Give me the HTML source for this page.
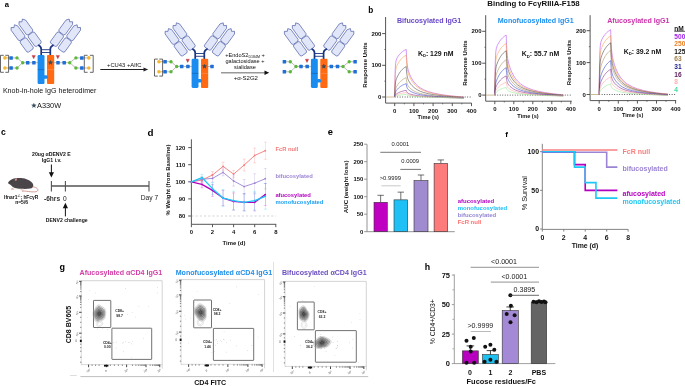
<!DOCTYPE html>
<html><head><meta charset="utf-8"><style>
html,body{margin:0;padding:0;background:#fff;width:685px;height:386px;overflow:hidden}
svg{display:block;will-change:transform}
text{font-family:"Liberation Sans", sans-serif}
</style></head><body>
<svg width="685" height="386" viewBox="0 0 685 386">
<rect width="685" height="386" fill="#fff"/>
<text x="4.70" y="6.80" font-size="7.6" font-weight="bold" fill="#000" text-anchor="start" >a</text><g stroke="#777" stroke-width="0.5" fill="none"><path d="M38.80,62.70 L22.70,62.70" stroke="#777" stroke-width="0.5" fill="none" /><path d="M22.70,62.70 L17.00,57.90 L4.90,57.90" stroke="#777" stroke-width="0.5" fill="none" /><path d="M22.70,62.70 L17.00,68.00 L4.90,68.00" stroke="#777" stroke-width="0.5" fill="none" /></g><rect x="32.15" y="60.95" width="3.50" height="3.50" fill="#1f6fd8" stroke="none" stroke-width="0" rx="0.5" /><rect x="25.95" y="60.95" width="3.50" height="3.50" fill="#1f6fd8" stroke="none" stroke-width="0" rx="0.5" /><circle cx="22.70" cy="62.70" r="1.70" fill="#5cb83a" stroke="none" stroke-width="0"/><circle cx="17.00" cy="57.90" r="1.70" fill="#5cb83a" stroke="none" stroke-width="0"/><rect x="9.35" y="56.15" width="3.50" height="3.50" fill="#1f6fd8" stroke="none" stroke-width="0" rx="0.5" /><circle cx="4.90" cy="57.90" r="1.80" fill="#f5b82e" stroke="none" stroke-width="0"/><circle cx="17.00" cy="68.00" r="1.70" fill="#5cb83a" stroke="none" stroke-width="0"/><rect x="9.35" y="66.25" width="3.50" height="3.50" fill="#1f6fd8" stroke="none" stroke-width="0" rx="0.5" /><circle cx="4.90" cy="68.00" r="1.80" fill="#f5b82e" stroke="none" stroke-width="0"/><path d="M3.80,55.30 L0.50,55.30 L0.50,72.30 L3.80,72.30" stroke="#333" stroke-width="0.75" fill="none" /><path d="M5.30,55.30 L8.60,55.30 L8.60,72.30 L5.30,72.30" stroke="#333" stroke-width="0.75" fill="none" /><g stroke="#777" stroke-width="0.5" fill="none"><path d="M52.80,62.70 L69.70,62.70" stroke="#777" stroke-width="0.5" fill="none" /><path d="M69.70,62.70 L75.90,57.90 L88.80,57.90" stroke="#777" stroke-width="0.5" fill="none" /><path d="M69.70,62.70 L75.90,68.00 L88.80,68.00" stroke="#777" stroke-width="0.5" fill="none" /></g><rect x="56.25" y="60.95" width="3.50" height="3.50" fill="#1f6fd8" stroke="none" stroke-width="0" rx="0.5" /><rect x="62.45" y="60.95" width="3.50" height="3.50" fill="#1f6fd8" stroke="none" stroke-width="0" rx="0.5" /><circle cx="69.70" cy="62.70" r="1.70" fill="#5cb83a" stroke="none" stroke-width="0"/><circle cx="75.90" cy="57.90" r="1.70" fill="#5cb83a" stroke="none" stroke-width="0"/><rect x="80.05" y="56.15" width="3.50" height="3.50" fill="#1f6fd8" stroke="none" stroke-width="0" rx="0.5" /><circle cx="88.80" cy="57.90" r="1.80" fill="#f5b82e" stroke="none" stroke-width="0"/><circle cx="75.90" cy="68.00" r="1.70" fill="#5cb83a" stroke="none" stroke-width="0"/><rect x="80.05" y="66.25" width="3.50" height="3.50" fill="#1f6fd8" stroke="none" stroke-width="0" rx="0.5" /><circle cx="88.80" cy="68.00" r="1.80" fill="#f5b82e" stroke="none" stroke-width="0"/><path d="M87.60,55.30 L84.30,55.30 L84.30,72.30 L87.60,72.30" stroke="#333" stroke-width="0.75" fill="none" /><path d="M89.90,55.30 L93.20,55.30 L93.20,72.30 L89.90,72.30" stroke="#333" stroke-width="0.75" fill="none" /><path d="M11.10,30.20 L11.10,27.48 L14.02,27.58 L14.46,24.79 L17.73,25.88 L24.84,35.67 L24.57,37.35 L20.12,40.58 L18.45,40.31 Z" stroke="#4b5ca6" stroke-width="0.7" fill="#e1e7f9" stroke-linejoin="round"/><path d="M20.21,42.74 L20.48,41.06 L24.93,37.83 L26.60,38.10 L33.24,47.24 L32.98,48.91 L28.53,52.15 L26.85,51.88 Z" stroke="#4b5ca6" stroke-width="0.7" fill="#e1e7f9" stroke-linejoin="round"/><path d="M19.03,24.44 L19.03,21.72 L21.95,21.82 L22.39,19.03 L25.65,20.12 L32.77,29.91 L32.50,31.59 L28.05,34.82 L26.38,34.55 Z" stroke="#4b5ca6" stroke-width="0.7" fill="#e1e7f9" stroke-linejoin="round"/><path d="M28.14,36.98 L28.40,35.30 L32.85,32.07 L34.53,32.34 L41.17,41.48 L40.91,43.15 L36.46,46.39 L34.78,46.12 Z" stroke="#4b5ca6" stroke-width="0.7" fill="#e1e7f9" stroke-linejoin="round"/><path d="M80.50,30.20 L80.50,27.48 L77.58,27.58 L77.14,24.79 L73.87,25.88 L66.76,35.67 L67.03,37.35 L71.48,40.58 L73.15,40.31 Z" stroke="#4b5ca6" stroke-width="0.7" fill="#e1e7f9" stroke-linejoin="round"/><path d="M71.39,42.74 L71.12,41.06 L66.67,37.83 L65.00,38.10 L58.36,47.24 L58.62,48.91 L63.07,52.15 L64.75,51.88 Z" stroke="#4b5ca6" stroke-width="0.7" fill="#e1e7f9" stroke-linejoin="round"/><path d="M72.57,24.44 L72.57,21.72 L69.65,21.82 L69.21,19.03 L65.95,20.12 L58.83,29.91 L59.10,31.59 L63.55,34.82 L65.22,34.55 Z" stroke="#4b5ca6" stroke-width="0.7" fill="#e1e7f9" stroke-linejoin="round"/><path d="M63.46,36.98 L63.20,35.30 L58.75,32.07 L57.07,32.34 L50.43,41.48 L50.69,43.15 L55.14,46.39 L56.82,46.12 Z" stroke="#4b5ca6" stroke-width="0.7" fill="#e1e7f9" stroke-linejoin="round"/><path d="M38.30,45.00 Q41.20,46.50 41.20,49.00 L41.20,56.00" stroke="#1a3480" stroke-width="1.7" fill="none" /><path d="M53.60,45.00 Q50.30,46.50 50.30,49.00 L50.30,56.00" stroke="#1a3480" stroke-width="1.7" fill="none" /><line x1="41.20" y1="49.70" x2="50.30" y2="49.70" stroke="#1a3480" stroke-width="0.9" /><line x1="41.20" y1="52.50" x2="50.30" y2="52.50" stroke="#1a3480" stroke-width="0.9" /><rect x="37.60" y="55.00" width="6.90" height="29.10" fill="#1a8cf0" stroke="none" stroke-width="0" rx="1.3" /><rect x="47.00" y="55.00" width="7.20" height="29.10" fill="#ff6a12" stroke="none" stroke-width="0" rx="1.0" /><line x1="37.80" y1="69.60" x2="44.30" y2="69.60" stroke="#0d5fb0" stroke-width="0.6" /><line x1="47.20" y1="69.60" x2="54.00" y2="69.60" stroke="#ff9a60" stroke-width="0.5" /><rect x="43.00" y="75.20" width="4.90" height="3.60" fill="#1a8cf0" stroke="none" stroke-width="0" rx="1.6" /><path d="M50.50,60.30 L51.09,61.79 L52.69,61.89 L51.45,62.91 L51.85,64.46 L50.50,63.60 L49.15,64.46 L49.55,62.91 L48.31,61.89 L49.91,61.79 Z" stroke="#23303a" stroke-width="0.3" fill="#3b5162" /><path d="M32.00,55.40 L35.40,55.40 L33.70,58.80 Z" stroke="#a02030" stroke-width="0.3" fill="#e0303a" /><path d="M56.10,55.40 L59.50,55.40 L57.80,58.80 Z" stroke="#a02030" stroke-width="0.3" fill="#e0303a" /><g stroke="#777" stroke-width="0.5" fill="none"><path d="M192.80,66.50 L176.70,66.50" stroke="#777" stroke-width="0.5" fill="none" /><path d="M176.70,66.50 L171.00,61.70 L158.90,61.70" stroke="#777" stroke-width="0.5" fill="none" /><path d="M176.70,66.50 L171.00,71.80 L158.90,71.80" stroke="#777" stroke-width="0.5" fill="none" /></g><rect x="186.15" y="64.75" width="3.50" height="3.50" fill="#1f6fd8" stroke="none" stroke-width="0" rx="0.5" /><rect x="179.95" y="64.75" width="3.50" height="3.50" fill="#1f6fd8" stroke="none" stroke-width="0" rx="0.5" /><circle cx="176.70" cy="66.50" r="1.70" fill="#5cb83a" stroke="none" stroke-width="0"/><circle cx="171.00" cy="61.70" r="1.70" fill="#5cb83a" stroke="none" stroke-width="0"/><rect x="163.35" y="59.95" width="3.50" height="3.50" fill="#1f6fd8" stroke="none" stroke-width="0" rx="0.5" /><circle cx="158.90" cy="61.70" r="1.80" fill="#f5b82e" stroke="none" stroke-width="0"/><circle cx="171.00" cy="71.80" r="1.70" fill="#5cb83a" stroke="none" stroke-width="0"/><rect x="163.35" y="70.05" width="3.50" height="3.50" fill="#1f6fd8" stroke="none" stroke-width="0" rx="0.5" /><circle cx="158.90" cy="71.80" r="1.80" fill="#f5b82e" stroke="none" stroke-width="0"/><path d="M157.80,59.10 L154.50,59.10 L154.50,76.10 L157.80,76.10" stroke="#333" stroke-width="0.75" fill="none" /><path d="M159.30,59.10 L162.60,59.10 L162.60,76.10 L159.30,76.10" stroke="#333" stroke-width="0.75" fill="none" /><g stroke="#777" stroke-width="0.5" fill="none"><path d="M206.80,66.50 L212.00,66.50" stroke="#777" stroke-width="0.5" fill="none" /></g><rect x="210.25" y="64.75" width="3.50" height="3.50" fill="#1f6fd8" stroke="none" stroke-width="0" rx="0.5" /><path d="M165.10,34.00 L165.10,31.28 L168.02,31.38 L168.46,28.59 L171.73,29.68 L178.84,39.47 L178.57,41.15 L174.12,44.38 L172.45,44.11 Z" stroke="#4b5ca6" stroke-width="0.7" fill="#e1e7f9" stroke-linejoin="round"/><path d="M174.21,46.54 L174.48,44.86 L178.93,41.63 L180.60,41.90 L187.24,51.04 L186.98,52.71 L182.53,55.95 L180.85,55.68 Z" stroke="#4b5ca6" stroke-width="0.7" fill="#e1e7f9" stroke-linejoin="round"/><path d="M173.03,28.24 L173.03,25.52 L175.95,25.62 L176.39,22.83 L179.65,23.92 L186.77,33.71 L186.50,35.39 L182.05,38.62 L180.38,38.35 Z" stroke="#4b5ca6" stroke-width="0.7" fill="#e1e7f9" stroke-linejoin="round"/><path d="M182.14,40.78 L182.40,39.10 L186.85,35.87 L188.53,36.14 L195.17,45.28 L194.91,46.95 L190.46,50.19 L188.78,49.92 Z" stroke="#4b5ca6" stroke-width="0.7" fill="#e1e7f9" stroke-linejoin="round"/><path d="M234.50,34.00 L234.50,31.28 L231.58,31.38 L231.14,28.59 L227.87,29.68 L220.76,39.47 L221.03,41.15 L225.48,44.38 L227.15,44.11 Z" stroke="#4b5ca6" stroke-width="0.7" fill="#e1e7f9" stroke-linejoin="round"/><path d="M225.39,46.54 L225.12,44.86 L220.67,41.63 L219.00,41.90 L212.36,51.04 L212.62,52.71 L217.07,55.95 L218.75,55.68 Z" stroke="#4b5ca6" stroke-width="0.7" fill="#e1e7f9" stroke-linejoin="round"/><path d="M226.57,28.24 L226.57,25.52 L223.65,25.62 L223.21,22.83 L219.95,23.92 L212.83,33.71 L213.10,35.39 L217.55,38.62 L219.22,38.35 Z" stroke="#4b5ca6" stroke-width="0.7" fill="#e1e7f9" stroke-linejoin="round"/><path d="M217.46,40.78 L217.20,39.10 L212.75,35.87 L211.07,36.14 L204.43,45.28 L204.69,46.95 L209.14,50.19 L210.82,49.92 Z" stroke="#4b5ca6" stroke-width="0.7" fill="#e1e7f9" stroke-linejoin="round"/><path d="M192.30,48.80 Q195.20,50.30 195.20,52.80 L195.20,59.80" stroke="#1a3480" stroke-width="1.7" fill="none" /><path d="M207.60,48.80 Q204.30,50.30 204.30,52.80 L204.30,59.80" stroke="#1a3480" stroke-width="1.7" fill="none" /><line x1="195.20" y1="53.50" x2="204.30" y2="53.50" stroke="#1a3480" stroke-width="0.9" /><line x1="195.20" y1="56.30" x2="204.30" y2="56.30" stroke="#1a3480" stroke-width="0.9" /><rect x="191.60" y="58.80" width="6.90" height="29.10" fill="#1a8cf0" stroke="none" stroke-width="0" rx="1.3" /><rect x="201.00" y="58.80" width="7.20" height="29.10" fill="#ff6a12" stroke="none" stroke-width="0" rx="1.0" /><line x1="191.80" y1="73.40" x2="198.30" y2="73.40" stroke="#0d5fb0" stroke-width="0.6" /><line x1="201.20" y1="73.40" x2="208.00" y2="73.40" stroke="#ff9a60" stroke-width="0.5" /><rect x="197.00" y="79.00" width="4.90" height="3.60" fill="#1a8cf0" stroke="none" stroke-width="0" rx="1.6" /><path d="M204.50,64.10 L205.09,65.59 L206.69,65.69 L205.45,66.71 L205.85,68.26 L204.50,67.40 L203.15,68.26 L203.55,66.71 L202.31,65.69 L203.91,65.59 Z" stroke="#23303a" stroke-width="0.3" fill="#3b5162" /><path d="M186.00,59.20 L189.40,59.20 L187.70,62.60 Z" stroke="#a02030" stroke-width="0.3" fill="#e0303a" /><g stroke="#777" stroke-width="0.5" fill="none"><path d="M312.10,66.50 L296.00,66.50" stroke="#777" stroke-width="0.5" fill="none" /><path d="M296.00,66.50 L290.30,61.70 L284.40,61.70" stroke="#777" stroke-width="0.5" fill="none" /><path d="M296.00,66.50 L290.30,71.80 L284.40,71.80" stroke="#777" stroke-width="0.5" fill="none" /></g><rect x="305.45" y="64.75" width="3.50" height="3.50" fill="#1f6fd8" stroke="none" stroke-width="0" rx="0.5" /><rect x="299.25" y="64.75" width="3.50" height="3.50" fill="#1f6fd8" stroke="none" stroke-width="0" rx="0.5" /><circle cx="296.00" cy="66.50" r="1.70" fill="#5cb83a" stroke="none" stroke-width="0"/><circle cx="290.30" cy="61.70" r="1.70" fill="#5cb83a" stroke="none" stroke-width="0"/><rect x="282.65" y="59.95" width="3.50" height="3.50" fill="#1f6fd8" stroke="none" stroke-width="0" rx="0.5" /><circle cx="290.30" cy="71.80" r="1.70" fill="#5cb83a" stroke="none" stroke-width="0"/><rect x="282.65" y="70.05" width="3.50" height="3.50" fill="#1f6fd8" stroke="none" stroke-width="0" rx="0.5" /><g stroke="#777" stroke-width="0.5" fill="none"><path d="M326.10,66.50 L343.00,66.50" stroke="#777" stroke-width="0.5" fill="none" /><path d="M343.00,66.50 L349.20,61.70 L355.10,61.70" stroke="#777" stroke-width="0.5" fill="none" /><path d="M343.00,66.50 L349.20,71.80 L355.10,71.80" stroke="#777" stroke-width="0.5" fill="none" /></g><rect x="329.55" y="64.75" width="3.50" height="3.50" fill="#1f6fd8" stroke="none" stroke-width="0" rx="0.5" /><rect x="335.75" y="64.75" width="3.50" height="3.50" fill="#1f6fd8" stroke="none" stroke-width="0" rx="0.5" /><circle cx="343.00" cy="66.50" r="1.70" fill="#5cb83a" stroke="none" stroke-width="0"/><circle cx="349.20" cy="61.70" r="1.70" fill="#5cb83a" stroke="none" stroke-width="0"/><rect x="353.35" y="59.95" width="3.50" height="3.50" fill="#1f6fd8" stroke="none" stroke-width="0" rx="0.5" /><circle cx="349.20" cy="71.80" r="1.70" fill="#5cb83a" stroke="none" stroke-width="0"/><rect x="353.35" y="70.05" width="3.50" height="3.50" fill="#1f6fd8" stroke="none" stroke-width="0" rx="0.5" /><path d="M284.40,34.00 L284.40,31.28 L287.32,31.38 L287.76,28.59 L291.03,29.68 L298.14,39.47 L297.87,41.15 L293.42,44.38 L291.75,44.11 Z" stroke="#4b5ca6" stroke-width="0.7" fill="#e1e7f9" stroke-linejoin="round"/><path d="M293.51,46.54 L293.78,44.86 L298.23,41.63 L299.90,41.90 L306.54,51.04 L306.28,52.71 L301.83,55.95 L300.15,55.68 Z" stroke="#4b5ca6" stroke-width="0.7" fill="#e1e7f9" stroke-linejoin="round"/><path d="M292.33,28.24 L292.33,25.52 L295.25,25.62 L295.69,22.83 L298.95,23.92 L306.07,33.71 L305.80,35.39 L301.35,38.62 L299.68,38.35 Z" stroke="#4b5ca6" stroke-width="0.7" fill="#e1e7f9" stroke-linejoin="round"/><path d="M301.44,40.78 L301.70,39.10 L306.15,35.87 L307.83,36.14 L314.47,45.28 L314.21,46.95 L309.76,50.19 L308.08,49.92 Z" stroke="#4b5ca6" stroke-width="0.7" fill="#e1e7f9" stroke-linejoin="round"/><path d="M353.80,34.00 L353.80,31.28 L350.88,31.38 L350.44,28.59 L347.17,29.68 L340.06,39.47 L340.33,41.15 L344.78,44.38 L346.45,44.11 Z" stroke="#4b5ca6" stroke-width="0.7" fill="#e1e7f9" stroke-linejoin="round"/><path d="M344.69,46.54 L344.42,44.86 L339.97,41.63 L338.30,41.90 L331.66,51.04 L331.92,52.71 L336.37,55.95 L338.05,55.68 Z" stroke="#4b5ca6" stroke-width="0.7" fill="#e1e7f9" stroke-linejoin="round"/><path d="M345.87,28.24 L345.87,25.52 L342.95,25.62 L342.51,22.83 L339.25,23.92 L332.13,33.71 L332.40,35.39 L336.85,38.62 L338.52,38.35 Z" stroke="#4b5ca6" stroke-width="0.7" fill="#e1e7f9" stroke-linejoin="round"/><path d="M336.76,40.78 L336.50,39.10 L332.05,35.87 L330.37,36.14 L323.73,45.28 L323.99,46.95 L328.44,50.19 L330.12,49.92 Z" stroke="#4b5ca6" stroke-width="0.7" fill="#e1e7f9" stroke-linejoin="round"/><path d="M311.60,48.80 Q314.50,50.30 314.50,52.80 L314.50,59.80" stroke="#1a3480" stroke-width="1.7" fill="none" /><path d="M326.90,48.80 Q323.60,50.30 323.60,52.80 L323.60,59.80" stroke="#1a3480" stroke-width="1.7" fill="none" /><line x1="314.50" y1="53.50" x2="323.60" y2="53.50" stroke="#1a3480" stroke-width="0.9" /><line x1="314.50" y1="56.30" x2="323.60" y2="56.30" stroke="#1a3480" stroke-width="0.9" /><rect x="310.90" y="58.80" width="6.90" height="29.10" fill="#1a8cf0" stroke="none" stroke-width="0" rx="1.3" /><rect x="320.30" y="58.80" width="7.20" height="29.10" fill="#ff6a12" stroke="none" stroke-width="0" rx="1.0" /><line x1="311.10" y1="73.40" x2="317.60" y2="73.40" stroke="#0d5fb0" stroke-width="0.6" /><line x1="320.50" y1="73.40" x2="327.30" y2="73.40" stroke="#ff9a60" stroke-width="0.5" /><rect x="316.30" y="79.00" width="4.90" height="3.60" fill="#1a8cf0" stroke="none" stroke-width="0" rx="1.6" /><path d="M323.80,64.10 L324.39,65.59 L325.99,65.69 L324.75,66.71 L325.15,68.26 L323.80,67.40 L322.45,68.26 L322.85,66.71 L321.61,65.69 L323.21,65.59 Z" stroke="#23303a" stroke-width="0.3" fill="#3b5162" /><path d="M305.30,59.20 L308.70,59.20 L307.00,62.60 Z" stroke="#a02030" stroke-width="0.3" fill="#e0303a" /><text x="2.90" y="92.96" font-size="7.1" font-weight="normal" fill="#111" text-anchor="start" >Knob-in-hole IgG heterodimer</text><path d="M33.90,102.70 L34.63,104.59 L36.66,104.70 L35.09,105.99 L35.60,107.95 L33.90,106.85 L32.20,107.95 L32.71,105.99 L31.14,104.70 L33.17,104.59 Z" stroke="none" stroke-width="1" fill="#3b5162" /><text x="37.00" y="108.05" font-size="7.35" font-weight="normal" fill="#111" text-anchor="start" >A330W</text><line x1="100.30" y1="69.50" x2="145.00" y2="69.50" stroke="#222" stroke-width="1.1" /><path d="M143.5,67.4 L148.2,69.5 L143.5,71.6 Z" stroke="none" stroke-width="1" fill="#222" /><text x="124.20" y="66.71" font-size="5.85" font-weight="normal" fill="#111" text-anchor="middle" >+CU43 +AlfC</text><line x1="221.00" y1="72.70" x2="265.00" y2="72.70" stroke="#999" stroke-width="1.5" /><path d="M264.5,70.4 L269.2,72.7 L264.5,75.0 Z" stroke="none" stroke-width="1" fill="#111" /><text x="245.00" y="57.42" font-size="5.6" font-weight="normal" fill="#111" text-anchor="middle" >+EndoS2<tspan font-size="3.6" dy="0.8">D184M</tspan><tspan dy="-0.8"> +</tspan></text><text x="245.00" y="63.32" font-size="5.6" font-weight="normal" fill="#111" text-anchor="middle" >galactosidase +</text><text x="245.00" y="69.02" font-size="5.6" font-weight="normal" fill="#111" text-anchor="middle" >sialidase</text><text x="245.80" y="80.46" font-size="6.0" font-weight="normal" fill="#111" text-anchor="middle" >+α-S2G2</text><text x="368.30" y="13.30" font-size="8.2" font-weight="bold" fill="#000" text-anchor="start" >b</text><text x="533.50" y="6.01" font-size="7.8" font-weight="bold" fill="#111" text-anchor="middle" >Binding to FcγRIIIA-F158</text><line x1="385.60" y1="17.00" x2="385.60" y2="103.10" stroke="#555" stroke-width="1.0" /><line x1="385.60" y1="103.10" x2="471.60" y2="103.10" stroke="#555" stroke-width="1.0" /><line x1="382.10" y1="97.00" x2="385.60" y2="97.00" stroke="#444" stroke-width="0.9" /><text x="381.40" y="99.16" font-size="6.0" font-weight="bold" fill="#111" text-anchor="end" >0</text><line x1="382.10" y1="65.30" x2="385.60" y2="65.30" stroke="#444" stroke-width="0.9" /><text x="381.40" y="67.46" font-size="6.0" font-weight="bold" fill="#111" text-anchor="end" >100</text><line x1="382.10" y1="33.60" x2="385.60" y2="33.60" stroke="#444" stroke-width="0.9" /><text x="381.40" y="35.76" font-size="6.0" font-weight="bold" fill="#111" text-anchor="end" >200</text><line x1="384.30" y1="81.15" x2="385.60" y2="81.15" stroke="#333" stroke-width="0.6" /><line x1="384.30" y1="49.45" x2="385.60" y2="49.45" stroke="#333" stroke-width="0.6" /><line x1="394.70" y1="103.10" x2="394.70" y2="106.10" stroke="#444" stroke-width="0.9" /><text x="394.70" y="113.26" font-size="6.0" font-weight="bold" fill="#111" text-anchor="middle" >0</text><line x1="413.90" y1="103.10" x2="413.90" y2="106.10" stroke="#444" stroke-width="0.9" /><text x="413.90" y="113.26" font-size="6.0" font-weight="bold" fill="#111" text-anchor="middle" >100</text><line x1="433.10" y1="103.10" x2="433.10" y2="106.10" stroke="#444" stroke-width="0.9" /><text x="433.10" y="113.26" font-size="6.0" font-weight="bold" fill="#111" text-anchor="middle" >200</text><line x1="452.30" y1="103.10" x2="452.30" y2="106.10" stroke="#444" stroke-width="0.9" /><text x="452.30" y="113.26" font-size="6.0" font-weight="bold" fill="#111" text-anchor="middle" >300</text><line x1="471.50" y1="103.10" x2="471.50" y2="106.10" stroke="#444" stroke-width="0.9" /><text x="471.50" y="113.26" font-size="6.0" font-weight="bold" fill="#111" text-anchor="middle" >400</text><line x1="404.30" y1="103.10" x2="404.30" y2="104.40" stroke="#333" stroke-width="0.6" /><line x1="423.50" y1="103.10" x2="423.50" y2="104.40" stroke="#333" stroke-width="0.6" /><line x1="442.70" y1="103.10" x2="442.70" y2="104.40" stroke="#333" stroke-width="0.6" /><line x1="461.90" y1="103.10" x2="461.90" y2="104.40" stroke="#333" stroke-width="0.6" /><text x="428.30" y="119.42" font-size="5.6" font-weight="bold" fill="#111" text-anchor="middle" >Time (s)</text><text transform="translate(366.66,65.00) rotate(-90)" x="0" y="0" font-size="6.0" font-weight="bold" fill="#111" text-anchor="middle">Response Units</text><line x1="394.70" y1="97.00" x2="471.50" y2="97.00" stroke="#222" stroke-width="0.8" stroke-dasharray="0.9 1.6"/><line x1="385.87" y1="97.00" x2="394.70" y2="97.00" stroke="#c9b48c" stroke-width="0.9" /><path d="M394.70,97.00 L394.80,89.20 L394.89,83.07 L394.99,78.25 L395.08,74.46 L395.28,69.07 L395.47,65.64 L395.66,63.41 L395.85,61.91 L396.24,60.07 L396.62,58.96 L397.20,57.78 L397.77,56.82 L398.54,55.70 L399.50,54.48 L400.46,53.42 L401.42,52.50 L402.38,51.70 L403.34,51.01 L404.30,50.42 L405.26,49.90 L406.22,49.45 L406.32,52.02 L406.41,54.24 L406.60,57.86 L406.80,60.64 L406.99,62.81 L407.37,65.95 L407.76,68.13 L408.14,69.78 L408.72,71.73 L409.29,73.35 L410.06,75.22 L411.02,77.25 L411.98,79.01 L413.90,81.93 L415.82,84.20 L417.74,86.01 L420.62,88.10 L423.50,89.67 L428.30,91.58 L433.10,92.94 L438.86,94.15 L444.62,95.08 L452.30,96.02 L458.06,96.57 L463.82,97.03" stroke="#b040f0" stroke-width="0.55" fill="none" /><path d="M394.70,97.00 L394.80,90.99 L394.89,86.25 L394.99,82.50 L395.08,79.52 L395.28,75.25 L395.47,72.47 L395.66,70.60 L395.85,69.29 L396.24,67.57 L396.62,66.41 L397.20,65.08 L397.77,63.95 L398.54,62.62 L399.50,61.16 L400.46,59.89 L401.42,58.80 L402.38,57.85 L403.34,57.02 L404.30,56.31 L405.26,55.69 L406.22,55.16 L406.32,57.41 L406.41,59.37 L406.60,62.56 L406.80,65.01 L406.99,66.92 L407.37,69.68 L407.76,71.60 L408.14,73.05 L408.72,74.77 L409.29,76.20 L410.06,77.84 L411.02,79.63 L411.98,81.19 L413.90,83.75 L415.82,85.76 L417.74,87.36 L420.62,89.21 L423.50,90.60 L428.30,92.28 L433.10,93.49 L438.86,94.58 L444.62,95.41 L452.30,96.26 L458.06,96.75 L463.82,97.17" stroke="#ff9838" stroke-width="0.55" fill="none" /><path d="M394.70,97.00 L394.80,93.68 L394.89,91.04 L394.99,88.92 L395.08,87.21 L395.28,84.68 L395.47,82.95 L395.66,81.71 L395.85,80.77 L396.24,79.39 L396.62,78.32 L397.20,76.99 L397.77,75.82 L398.54,74.42 L399.50,72.89 L400.46,71.55 L401.42,70.40 L402.38,69.40 L403.34,68.54 L404.30,67.78 L405.26,67.13 L406.22,66.57 L406.32,68.21 L406.41,69.63 L406.60,71.95 L406.80,73.73 L406.99,75.13 L407.37,77.14 L407.76,78.53 L408.14,79.59 L408.72,80.85 L409.29,81.89 L410.06,83.09 L411.02,84.39 L411.98,85.53 L413.90,87.41 L415.82,88.88 L417.74,90.06 L420.62,91.41 L423.50,92.44 L428.30,93.70 L433.10,94.60 L438.86,95.42 L444.62,96.06 L452.30,96.72 L458.06,97.12 L463.82,97.45" stroke="#404040" stroke-width="0.55" fill="none" /><path d="M394.70,97.00 L394.80,95.29 L394.89,93.91 L394.99,92.79 L395.08,91.87 L395.28,90.48 L395.47,89.49 L395.66,88.75 L395.85,88.15 L396.24,87.22 L396.62,86.47 L397.20,85.49 L397.77,84.61 L398.54,83.56 L399.50,82.41 L400.46,81.41 L401.42,80.54 L402.38,79.79 L403.34,79.14 L404.30,78.58 L405.26,78.09 L406.22,77.66 L406.32,78.71 L406.41,79.61 L406.60,81.09 L406.80,82.22 L406.99,83.11 L407.37,84.39 L407.76,85.28 L408.14,85.95 L408.72,86.76 L409.29,87.42 L410.06,88.19 L411.02,89.03 L411.98,89.76 L413.90,90.96 L415.82,91.91 L417.74,92.67 L420.62,93.56 L423.50,94.23 L428.30,95.07 L433.10,95.68 L438.86,96.25 L444.62,96.69 L452.30,97.17 L458.06,97.47 L463.82,97.72" stroke="#a88a58" stroke-width="0.55" fill="none" /><path d="M394.70,97.00 L394.80,95.96 L394.89,95.11 L394.99,94.42 L395.08,93.84 L395.28,92.96 L395.47,92.32 L395.66,91.82 L395.85,91.41 L396.24,90.76 L396.62,90.21 L397.20,89.49 L397.77,88.84 L398.54,88.06 L399.50,87.20 L400.46,86.46 L401.42,85.82 L402.38,85.26 L403.34,84.78 L404.30,84.36 L405.26,84.00 L406.22,83.69 L406.32,84.41 L406.41,85.03 L406.60,86.05 L406.80,86.83 L406.99,87.44 L407.37,88.32 L407.76,88.94 L408.14,89.41 L408.72,89.96 L409.29,90.42 L410.06,90.96 L411.02,91.54 L411.98,92.05 L413.90,92.89 L415.82,93.56 L417.74,94.10 L420.62,94.72 L423.50,95.21 L428.30,95.81 L433.10,96.27 L438.86,96.69 L444.62,97.04 L452.30,97.42 L458.06,97.66 L463.82,97.87" stroke="#2a3ac8" stroke-width="0.55" fill="none" /><path d="M394.70,97.00 L394.80,96.55 L394.89,96.17 L394.99,95.87 L395.08,95.61 L395.28,95.21 L395.47,94.90 L395.66,94.66 L395.85,94.46 L396.24,94.12 L396.62,93.83 L397.20,93.45 L397.77,93.10 L398.54,92.69 L399.50,92.23 L400.46,91.83 L401.42,91.49 L402.38,91.19 L403.34,90.93 L404.30,90.71 L405.26,90.51 L406.22,90.34 L406.32,90.70 L406.41,91.02 L406.60,91.53 L406.80,91.92 L406.99,92.23 L407.37,92.67 L407.76,92.99 L408.14,93.22 L408.72,93.51 L409.29,93.74 L410.06,94.02 L411.02,94.32 L411.98,94.58 L413.90,95.03 L415.82,95.38 L417.74,95.67 L420.62,96.01 L423.50,96.28 L428.30,96.64 L433.10,96.91 L438.86,97.19 L444.62,97.42 L452.30,97.69 L458.06,97.87 L463.82,98.04" stroke="#802080" stroke-width="0.55" fill="none" /><path d="M394.70,97.00 L394.80,96.74 L394.89,96.53 L394.99,96.35 L395.08,96.20 L395.28,95.95 L395.47,95.76 L395.66,95.61 L395.85,95.47 L396.24,95.24 L396.62,95.04 L397.20,94.77 L397.77,94.52 L398.54,94.23 L399.50,93.90 L400.46,93.62 L401.42,93.38 L402.38,93.16 L403.34,92.98 L404.30,92.82 L405.26,92.68 L406.22,92.56 L406.32,92.80 L406.41,93.01 L406.60,93.35 L406.80,93.62 L406.99,93.82 L407.37,94.12 L407.76,94.33 L408.14,94.50 L408.72,94.69 L409.29,94.85 L410.06,95.04 L411.02,95.25 L411.98,95.43 L413.90,95.74 L415.82,95.99 L417.74,96.19 L420.62,96.44 L423.50,96.64 L428.30,96.91 L433.10,97.13 L438.86,97.35 L444.62,97.55 L452.30,97.78 L458.06,97.94 L463.82,98.09" stroke="#ffa0a0" stroke-width="0.55" fill="none" /><path d="M394.70,97.00 L394.80,96.88 L394.89,96.78 L394.99,96.69 L395.08,96.61 L395.28,96.49 L395.47,96.39 L395.66,96.30 L395.85,96.22 L396.24,96.09 L396.62,95.97 L397.20,95.80 L397.77,95.66 L398.54,95.48 L399.50,95.28 L400.46,95.11 L401.42,94.96 L402.38,94.83 L403.34,94.72 L404.30,94.62 L405.26,94.54 L406.22,94.46 L406.32,94.60 L406.41,94.72 L406.60,94.92 L406.80,95.07 L406.99,95.19 L407.37,95.37 L407.76,95.49 L408.14,95.59 L408.72,95.70 L409.29,95.80 L410.06,95.91 L411.02,96.04 L411.98,96.15 L413.90,96.35 L415.82,96.51 L417.74,96.64 L420.62,96.81 L423.50,96.95 L428.30,97.15 L433.10,97.31 L438.86,97.49 L444.62,97.66 L452.30,97.86 L458.06,98.00 L463.82,98.14" stroke="#90e890" stroke-width="0.55" fill="none" /><text x="397.00" y="22.86" font-size="7.1" font-weight="bold" fill="#6a48c8" text-anchor="start" >Bifucosylated IgG1</text><text x="417.90" y="55.58" font-size="6.9" font-weight="bold" fill="#111" text-anchor="start" >K<tspan font-size="4.2" dy="1.5">D</tspan><tspan dy="-1.5">: 129 nM</tspan></text><line x1="485.70" y1="15.20" x2="485.70" y2="101.20" stroke="#555" stroke-width="1.0" /><line x1="485.70" y1="101.20" x2="571.70" y2="101.20" stroke="#555" stroke-width="1.0" /><line x1="482.20" y1="95.10" x2="485.70" y2="95.10" stroke="#444" stroke-width="0.9" /><text x="481.50" y="97.26" font-size="6.0" font-weight="bold" fill="#111" text-anchor="end" >0</text><line x1="482.20" y1="63.20" x2="485.70" y2="63.20" stroke="#444" stroke-width="0.9" /><text x="481.50" y="65.36" font-size="6.0" font-weight="bold" fill="#111" text-anchor="end" >100</text><line x1="482.20" y1="31.30" x2="485.70" y2="31.30" stroke="#444" stroke-width="0.9" /><text x="481.50" y="33.46" font-size="6.0" font-weight="bold" fill="#111" text-anchor="end" >200</text><line x1="484.40" y1="79.15" x2="485.70" y2="79.15" stroke="#333" stroke-width="0.6" /><line x1="484.40" y1="47.25" x2="485.70" y2="47.25" stroke="#333" stroke-width="0.6" /><line x1="494.80" y1="101.20" x2="494.80" y2="104.20" stroke="#444" stroke-width="0.9" /><text x="494.80" y="111.36" font-size="6.0" font-weight="bold" fill="#111" text-anchor="middle" >0</text><line x1="513.80" y1="101.20" x2="513.80" y2="104.20" stroke="#444" stroke-width="0.9" /><text x="513.80" y="111.36" font-size="6.0" font-weight="bold" fill="#111" text-anchor="middle" >100</text><line x1="532.80" y1="101.20" x2="532.80" y2="104.20" stroke="#444" stroke-width="0.9" /><text x="532.80" y="111.36" font-size="6.0" font-weight="bold" fill="#111" text-anchor="middle" >200</text><line x1="551.80" y1="101.20" x2="551.80" y2="104.20" stroke="#444" stroke-width="0.9" /><text x="551.80" y="111.36" font-size="6.0" font-weight="bold" fill="#111" text-anchor="middle" >300</text><line x1="570.80" y1="101.20" x2="570.80" y2="104.20" stroke="#444" stroke-width="0.9" /><text x="570.80" y="111.36" font-size="6.0" font-weight="bold" fill="#111" text-anchor="middle" >400</text><line x1="504.30" y1="101.20" x2="504.30" y2="102.50" stroke="#333" stroke-width="0.6" /><line x1="523.30" y1="101.20" x2="523.30" y2="102.50" stroke="#333" stroke-width="0.6" /><line x1="542.30" y1="101.20" x2="542.30" y2="102.50" stroke="#333" stroke-width="0.6" /><line x1="561.30" y1="101.20" x2="561.30" y2="102.50" stroke="#333" stroke-width="0.6" /><text x="528.00" y="117.52" font-size="5.6" font-weight="bold" fill="#111" text-anchor="middle" >Time (s)</text><text transform="translate(466.76,63.10) rotate(-90)" x="0" y="0" font-size="6.0" font-weight="bold" fill="#111" text-anchor="middle">Response Units</text><line x1="494.80" y1="95.10" x2="570.80" y2="95.10" stroke="#222" stroke-width="0.8" stroke-dasharray="0.9 1.6"/><line x1="486.06" y1="95.10" x2="494.80" y2="95.10" stroke="#c9b48c" stroke-width="0.9" /><path d="M494.80,95.10 L494.90,85.26 L494.99,77.53 L495.09,71.46 L495.18,66.67 L495.37,59.87 L495.56,55.55 L495.75,52.74 L495.94,50.84 L496.32,48.53 L496.70,47.12 L497.27,45.63 L497.84,44.42 L498.60,43.01 L499.55,41.47 L500.50,40.13 L501.45,38.97 L502.40,37.97 L503.35,37.10 L504.30,36.35 L505.25,35.69 L506.20,35.13 L506.30,38.36 L506.39,41.17 L506.58,45.73 L506.77,49.24 L506.96,51.98 L507.34,55.93 L507.72,58.68 L508.10,60.76 L508.67,63.22 L509.24,65.26 L510.00,67.61 L510.95,70.16 L511.90,72.38 L513.80,76.05 L515.70,78.91 L517.60,81.18 L520.45,83.80 L523.30,85.77 L528.05,88.14 L532.80,89.83 L538.50,91.33 L544.20,92.47 L551.80,93.62 L557.50,94.28 L563.20,94.82" stroke="#b040f0" stroke-width="0.55" fill="none" /><path d="M494.80,95.10 L494.90,87.36 L494.99,81.26 L495.09,76.45 L495.18,72.64 L495.37,67.19 L495.56,63.67 L495.75,61.33 L495.94,59.71 L496.32,57.62 L496.70,56.25 L497.27,54.72 L497.84,53.43 L498.60,51.91 L499.55,50.25 L500.50,48.81 L501.45,47.56 L502.40,46.48 L503.35,45.55 L504.30,44.74 L505.25,44.03 L506.20,43.42 L506.30,46.21 L506.39,48.63 L506.58,52.56 L506.77,55.58 L506.96,57.94 L507.34,61.35 L507.72,63.72 L508.10,65.51 L508.67,67.63 L509.24,69.39 L510.00,71.42 L510.95,73.62 L511.90,75.54 L513.80,78.70 L515.70,81.18 L517.60,83.14 L520.45,85.40 L523.30,87.11 L528.05,89.17 L532.80,90.64 L538.50,91.95 L544.20,92.95 L551.80,93.95 L557.50,94.54 L563.20,95.03" stroke="#ff9838" stroke-width="0.55" fill="none" /><path d="M494.80,95.10 L494.90,89.36 L494.99,84.82 L495.09,81.21 L495.18,78.33 L495.37,74.15 L495.56,71.38 L495.75,69.47 L495.94,68.09 L496.32,66.19 L496.70,64.83 L497.27,63.20 L497.84,61.79 L498.60,60.12 L499.55,58.29 L500.50,56.70 L501.45,55.33 L502.40,54.14 L503.35,53.10 L504.30,52.21 L505.25,51.43 L506.20,50.76 L506.30,53.15 L506.39,55.23 L506.58,58.60 L506.77,61.20 L506.96,63.22 L507.34,66.15 L507.72,68.18 L508.10,69.72 L508.67,71.54 L509.24,73.05 L510.00,74.80 L510.95,76.69 L511.90,78.33 L513.80,81.05 L515.70,83.18 L517.60,84.87 L520.45,86.82 L523.30,88.29 L528.05,90.07 L532.80,91.35 L538.50,92.49 L544.20,93.36 L551.80,94.25 L557.50,94.78 L563.20,95.21" stroke="#404040" stroke-width="0.55" fill="none" /><path d="M494.80,95.10 L494.90,91.24 L494.99,88.16 L495.09,85.70 L495.18,83.71 L495.37,80.77 L495.56,78.76 L495.75,77.31 L495.94,76.22 L496.32,74.60 L496.70,73.37 L497.27,71.82 L497.84,70.46 L498.60,68.83 L499.55,67.04 L500.50,65.49 L501.45,64.15 L502.40,62.99 L503.35,61.98 L504.30,61.11 L505.25,60.35 L506.20,59.69 L506.30,61.60 L506.39,63.26 L506.58,65.96 L506.77,68.03 L506.96,69.65 L507.34,71.99 L507.72,73.61 L508.10,74.84 L508.67,76.30 L509.24,77.51 L510.00,78.90 L510.95,80.42 L511.90,81.74 L513.80,83.92 L515.70,85.62 L517.60,86.98 L520.45,88.55 L523.30,89.74 L528.05,91.18 L532.80,92.22 L538.50,93.15 L544.20,93.88 L551.80,94.62 L557.50,95.06 L563.20,95.43" stroke="#a88a58" stroke-width="0.55" fill="none" /><path d="M494.80,95.10 L494.90,92.67 L494.99,90.71 L495.09,89.12 L495.18,87.82 L495.37,85.85 L495.56,84.45 L495.75,83.39 L495.94,82.55 L496.32,81.23 L496.70,80.16 L497.27,78.76 L497.84,77.52 L498.60,76.03 L499.55,74.40 L500.50,72.98 L501.45,71.75 L502.40,70.69 L503.35,69.76 L504.30,68.96 L505.25,68.27 L506.20,67.67 L506.30,69.15 L506.39,70.43 L506.58,72.52 L506.77,74.13 L506.96,75.38 L507.34,77.20 L507.72,78.46 L508.10,79.41 L508.67,80.54 L509.24,81.48 L510.00,82.57 L510.95,83.75 L511.90,84.77 L513.80,86.47 L515.70,87.80 L517.60,88.86 L520.45,90.09 L523.30,91.03 L528.05,92.17 L532.80,92.99 L538.50,93.75 L544.20,94.33 L551.80,94.94 L557.50,95.31 L563.20,95.62" stroke="#2a3ac8" stroke-width="0.55" fill="none" /><path d="M494.80,95.10 L494.90,93.60 L494.99,92.38 L495.09,91.38 L495.18,90.56 L495.37,89.30 L495.56,88.37 L495.75,87.65 L495.94,87.07 L496.32,86.12 L496.70,85.34 L497.27,84.30 L497.84,83.36 L498.60,82.25 L499.55,81.02 L500.50,79.95 L501.45,79.03 L502.40,78.23 L503.35,77.53 L504.30,76.93 L505.25,76.41 L506.20,75.96 L506.30,76.99 L506.39,77.89 L506.58,79.35 L506.77,80.47 L506.96,81.35 L507.34,82.62 L507.72,83.50 L508.10,84.17 L508.67,84.96 L509.24,85.62 L510.00,86.38 L510.95,87.21 L511.90,87.93 L513.80,89.13 L515.70,90.07 L517.60,90.82 L520.45,91.70 L523.30,92.37 L528.05,93.19 L532.80,93.80 L538.50,94.36 L544.20,94.81 L551.80,95.28 L557.50,95.57 L563.20,95.83" stroke="#802080" stroke-width="0.55" fill="none" /><path d="M494.80,95.10 L494.90,94.23 L494.99,93.52 L495.09,92.93 L495.18,92.44 L495.37,91.66 L495.56,91.08 L495.75,90.62 L495.94,90.23 L496.32,89.58 L496.70,89.03 L497.27,88.29 L497.84,87.63 L498.60,86.83 L499.55,85.95 L500.50,85.19 L501.45,84.53 L502.40,83.96 L503.35,83.46 L504.30,83.04 L505.25,82.66 L506.20,82.34 L506.30,83.03 L506.39,83.63 L506.58,84.60 L506.77,85.35 L506.96,85.94 L507.34,86.79 L507.72,87.38 L508.10,87.82 L508.67,88.36 L509.24,88.80 L510.00,89.31 L510.95,89.87 L511.90,90.36 L513.80,91.17 L515.70,91.81 L517.60,92.33 L520.45,92.93 L523.30,93.40 L528.05,93.98 L532.80,94.42 L538.50,94.83 L544.20,95.17 L551.80,95.54 L557.50,95.78 L563.20,95.99" stroke="#ffa0a0" stroke-width="0.55" fill="none" /><path d="M494.80,95.10 L494.90,94.66 L494.99,94.29 L495.09,93.98 L495.18,93.72 L495.37,93.30 L495.56,92.97 L495.75,92.70 L495.94,92.47 L496.32,92.07 L496.70,91.72 L497.27,91.25 L497.84,90.83 L498.60,90.32 L499.55,89.76 L500.50,89.27 L501.45,88.85 L502.40,88.48 L503.35,88.16 L504.30,87.89 L505.25,87.65 L506.20,87.44 L506.30,87.86 L506.39,88.22 L506.58,88.81 L506.77,89.26 L506.96,89.61 L507.34,90.12 L507.72,90.48 L508.10,90.75 L508.67,91.08 L509.24,91.35 L510.00,91.66 L510.95,92.00 L511.90,92.30 L513.80,92.81 L515.70,93.21 L517.60,93.53 L520.45,93.92 L523.30,94.22 L528.05,94.61 L532.80,94.92 L538.50,95.21 L544.20,95.46 L551.80,95.75 L557.50,95.94 L563.20,96.11" stroke="#90e890" stroke-width="0.55" fill="none" /><text x="497.70" y="22.86" font-size="7.1" font-weight="bold" fill="#1e90f0" text-anchor="start" >Monofucosylated IgG1</text><text x="521.80" y="56.18" font-size="6.9" font-weight="bold" fill="#111" text-anchor="start" >K<tspan font-size="4.2" dy="1.5">D</tspan><tspan dy="-1.5">: 55.7 nM</tspan></text><line x1="590.10" y1="15.20" x2="590.10" y2="100.60" stroke="#555" stroke-width="1.0" /><line x1="590.10" y1="100.60" x2="676.10" y2="100.60" stroke="#555" stroke-width="1.0" /><line x1="586.60" y1="94.50" x2="590.10" y2="94.50" stroke="#444" stroke-width="0.9" /><text x="585.90" y="96.66" font-size="6.0" font-weight="bold" fill="#111" text-anchor="end" >0</text><line x1="586.60" y1="62.60" x2="590.10" y2="62.60" stroke="#444" stroke-width="0.9" /><text x="585.90" y="64.76" font-size="6.0" font-weight="bold" fill="#111" text-anchor="end" >100</text><line x1="586.60" y1="30.70" x2="590.10" y2="30.70" stroke="#444" stroke-width="0.9" /><text x="585.90" y="32.86" font-size="6.0" font-weight="bold" fill="#111" text-anchor="end" >200</text><line x1="588.80" y1="78.55" x2="590.10" y2="78.55" stroke="#333" stroke-width="0.6" /><line x1="588.80" y1="46.65" x2="590.10" y2="46.65" stroke="#333" stroke-width="0.6" /><line x1="599.20" y1="100.60" x2="599.20" y2="103.60" stroke="#444" stroke-width="0.9" /><text x="599.20" y="110.76" font-size="6.0" font-weight="bold" fill="#111" text-anchor="middle" >0</text><line x1="618.30" y1="100.60" x2="618.30" y2="103.60" stroke="#444" stroke-width="0.9" /><text x="618.30" y="110.76" font-size="6.0" font-weight="bold" fill="#111" text-anchor="middle" >100</text><line x1="637.40" y1="100.60" x2="637.40" y2="103.60" stroke="#444" stroke-width="0.9" /><text x="637.40" y="110.76" font-size="6.0" font-weight="bold" fill="#111" text-anchor="middle" >200</text><line x1="656.50" y1="100.60" x2="656.50" y2="103.60" stroke="#444" stroke-width="0.9" /><text x="656.50" y="110.76" font-size="6.0" font-weight="bold" fill="#111" text-anchor="middle" >300</text><line x1="675.60" y1="100.60" x2="675.60" y2="103.60" stroke="#444" stroke-width="0.9" /><text x="675.60" y="110.76" font-size="6.0" font-weight="bold" fill="#111" text-anchor="middle" >400</text><line x1="608.75" y1="100.60" x2="608.75" y2="101.90" stroke="#333" stroke-width="0.6" /><line x1="627.85" y1="100.60" x2="627.85" y2="101.90" stroke="#333" stroke-width="0.6" /><line x1="646.95" y1="100.60" x2="646.95" y2="101.90" stroke="#333" stroke-width="0.6" /><line x1="666.05" y1="100.60" x2="666.05" y2="101.90" stroke="#333" stroke-width="0.6" /><text x="632.60" y="116.92" font-size="5.6" font-weight="bold" fill="#111" text-anchor="middle" >Time (s)</text><text transform="translate(571.16,62.50) rotate(-90)" x="0" y="0" font-size="6.0" font-weight="bold" fill="#111" text-anchor="middle">Response Units</text><line x1="599.20" y1="94.50" x2="675.60" y2="94.50" stroke="#222" stroke-width="0.8" stroke-dasharray="0.9 1.6"/><line x1="590.41" y1="94.50" x2="599.20" y2="94.50" stroke="#c9b48c" stroke-width="0.9" /><path d="M599.20,94.50 L599.30,83.48 L599.39,74.83 L599.49,68.05 L599.58,62.70 L599.77,55.15 L599.96,50.37 L600.16,47.29 L600.35,45.24 L600.73,42.79 L601.11,41.35 L601.68,39.88 L602.26,38.70 L603.02,37.34 L603.98,35.85 L604.93,34.57 L605.88,33.45 L606.84,32.48 L607.80,31.65 L608.75,30.92 L609.71,30.29 L610.66,29.74 L610.76,33.24 L610.85,36.26 L611.04,41.20 L611.23,44.98 L611.42,47.94 L611.81,52.21 L612.19,55.17 L612.57,57.41 L613.14,60.07 L613.72,62.27 L614.48,64.81 L615.44,67.56 L616.39,69.96 L618.30,73.91 L620.21,77.00 L622.12,79.45 L624.99,82.28 L627.85,84.39 L632.62,86.95 L637.40,88.77 L643.13,90.38 L648.86,91.60 L656.50,92.82 L662.23,93.53 L667.96,94.10" stroke="#b040f0" stroke-width="0.55" fill="none" /><path d="M599.20,94.50 L599.30,85.35 L599.39,78.15 L599.49,72.48 L599.58,68.00 L599.77,61.61 L599.96,57.51 L600.16,54.81 L600.35,52.96 L600.73,50.64 L601.11,49.16 L601.68,47.54 L602.26,46.19 L603.02,44.62 L603.98,42.89 L604.93,41.40 L605.88,40.11 L606.84,38.98 L607.80,38.01 L608.75,37.17 L609.71,36.44 L610.66,35.80 L610.76,38.97 L610.85,41.72 L611.04,46.19 L611.23,49.62 L611.42,52.30 L611.81,56.17 L612.19,58.85 L612.57,60.89 L613.14,63.30 L613.72,65.29 L614.48,67.60 L615.44,70.09 L616.39,72.27 L618.30,75.85 L620.21,78.66 L622.12,80.88 L624.99,83.45 L627.85,85.37 L632.62,87.70 L637.40,89.36 L643.13,90.83 L648.86,91.94 L656.50,93.07 L662.23,93.72 L667.96,94.25" stroke="#ff9838" stroke-width="0.55" fill="none" /><path d="M599.20,94.50 L599.30,87.28 L599.39,81.59 L599.49,77.08 L599.58,73.50 L599.77,68.34 L599.96,64.97 L600.16,62.68 L600.35,61.07 L600.73,58.91 L601.11,57.44 L601.68,55.72 L602.26,54.25 L603.02,52.52 L603.98,50.62 L604.93,48.98 L605.88,47.56 L606.84,46.32 L607.80,45.25 L608.75,44.32 L609.71,43.52 L610.66,42.82 L610.76,45.61 L610.85,48.03 L611.04,51.96 L611.23,54.98 L611.42,57.34 L611.81,60.75 L612.19,63.12 L612.57,64.91 L613.14,67.03 L613.72,68.79 L614.48,70.82 L615.44,73.02 L616.39,74.94 L618.30,78.10 L620.21,80.58 L622.12,82.54 L624.99,84.80 L627.85,86.51 L632.62,88.57 L637.40,90.04 L643.13,91.35 L648.86,92.35 L656.50,93.35 L662.23,93.94 L667.96,94.43" stroke="#404040" stroke-width="0.55" fill="none" /><path d="M599.20,94.50 L599.30,89.21 L599.39,85.01 L599.49,81.67 L599.58,78.98 L599.77,75.06 L599.96,72.41 L600.16,70.55 L600.35,69.17 L600.73,67.21 L601.11,65.76 L601.68,63.97 L602.26,62.42 L603.02,60.56 L603.98,58.53 L604.93,56.76 L605.88,55.24 L606.84,53.91 L607.80,52.76 L608.75,51.77 L609.71,50.91 L610.66,50.16 L610.76,52.55 L610.85,54.63 L611.04,58.00 L611.23,60.60 L611.42,62.62 L611.81,65.55 L612.19,67.58 L612.57,69.12 L613.14,70.94 L613.72,72.45 L614.48,74.20 L615.44,76.09 L616.39,77.73 L618.30,80.45 L620.21,82.58 L622.12,84.27 L624.99,86.22 L627.85,87.69 L632.62,89.47 L637.40,90.75 L643.13,91.89 L648.86,92.76 L656.50,93.65 L662.23,94.18 L667.96,94.61" stroke="#a88a58" stroke-width="0.55" fill="none" /><path d="M599.20,94.50 L599.30,91.16 L599.39,88.48 L599.49,86.33 L599.58,84.58 L599.77,81.96 L599.96,80.13 L600.16,78.79 L600.35,77.75 L600.73,76.17 L601.11,74.92 L601.68,73.32 L602.26,71.90 L603.02,70.20 L603.98,68.34 L604.93,66.73 L605.88,65.33 L606.84,64.12 L607.80,63.07 L608.75,62.16 L609.71,61.37 L610.66,60.69 L610.76,62.51 L610.85,64.09 L611.04,66.67 L611.23,68.65 L611.42,70.19 L611.81,72.43 L612.19,73.98 L612.57,75.15 L613.14,76.55 L613.72,77.70 L614.48,79.04 L615.44,80.48 L616.39,81.74 L618.30,83.83 L620.21,85.46 L622.12,86.76 L624.99,88.26 L627.85,89.39 L632.62,90.78 L637.40,91.77 L643.13,92.67 L648.86,93.37 L656.50,94.08 L662.23,94.51 L667.96,94.87" stroke="#2a3ac8" stroke-width="0.55" fill="none" /><path d="M599.20,94.50 L599.30,92.42 L599.39,90.74 L599.49,89.37 L599.58,88.24 L599.77,86.52 L599.96,85.27 L600.16,84.32 L600.35,83.54 L600.73,82.31 L601.11,81.30 L601.68,79.96 L602.26,78.77 L603.02,77.34 L603.98,75.77 L604.93,74.40 L605.88,73.22 L606.84,72.20 L607.80,71.31 L608.75,70.54 L609.71,69.88 L610.66,69.30 L610.76,70.66 L610.85,71.84 L611.04,73.76 L611.23,75.24 L611.42,76.39 L611.81,78.06 L612.19,79.21 L612.57,80.09 L613.14,81.13 L613.72,82.00 L614.48,83.00 L615.44,84.08 L616.39,85.02 L618.30,86.59 L620.21,87.81 L622.12,88.79 L624.99,89.93 L627.85,90.79 L632.62,91.84 L637.40,92.61 L643.13,93.31 L648.86,93.86 L656.50,94.43 L662.23,94.78 L667.96,95.08" stroke="#802080" stroke-width="0.55" fill="none" /><path d="M599.20,94.50 L599.30,93.27 L599.39,92.26 L599.49,91.43 L599.58,90.74 L599.77,89.66 L599.96,88.85 L600.16,88.20 L600.35,87.67 L600.73,86.79 L601.11,86.03 L601.68,85.03 L602.26,84.13 L603.02,83.05 L603.98,81.86 L604.93,80.82 L605.88,79.93 L606.84,79.15 L607.80,78.48 L608.75,77.90 L609.71,77.39 L610.66,76.95 L610.76,77.90 L610.85,78.72 L611.04,80.06 L611.23,81.09 L611.42,81.90 L611.81,83.06 L612.19,83.87 L612.57,84.48 L613.14,85.21 L613.72,85.82 L614.48,86.51 L615.44,87.28 L616.39,87.94 L618.30,89.04 L620.21,89.90 L622.12,90.60 L624.99,91.41 L627.85,92.02 L632.62,92.79 L637.40,93.35 L643.13,93.88 L648.86,94.30 L656.50,94.75 L662.23,95.02 L667.96,95.27" stroke="#ffa0a0" stroke-width="0.55" fill="none" /><path d="M599.20,94.50 L599.30,93.89 L599.39,93.38 L599.49,92.96 L599.58,92.60 L599.77,92.02 L599.96,91.57 L600.16,91.20 L600.35,90.88 L600.73,90.33 L601.11,89.86 L601.68,89.21 L602.26,88.63 L603.02,87.92 L603.98,87.15 L604.93,86.48 L605.88,85.90 L606.84,85.40 L607.80,84.96 L608.75,84.58 L609.71,84.26 L610.66,83.97 L610.76,84.54 L610.85,85.04 L611.04,85.84 L611.23,86.46 L611.42,86.94 L611.81,87.65 L612.19,88.13 L612.57,88.50 L613.14,88.95 L613.72,89.31 L614.48,89.74 L615.44,90.21 L616.39,90.61 L618.30,91.29 L620.21,91.82 L622.12,92.25 L624.99,92.76 L627.85,93.16 L632.62,93.66 L637.40,94.04 L643.13,94.40 L648.86,94.70 L656.50,95.03 L662.23,95.25 L667.96,95.44" stroke="#90e890" stroke-width="0.55" fill="none" /><text x="607.20" y="22.86" font-size="7.1" font-weight="bold" fill="#cc33aa" text-anchor="start" >Afucosylated IgG1</text><text x="623.70" y="53.68" font-size="6.9" font-weight="bold" fill="#111" text-anchor="start" >K<tspan font-size="4.2" dy="1.5">D</tspan><tspan dy="-1.5">: 39.2 nM</tspan></text><text x="674.30" y="31.18" font-size="6.6" font-weight="bold" fill="#111" text-anchor="start" >nM</text><line x1="674.30" y1="31.30" x2="685.00" y2="31.30" stroke="#111" stroke-width="0.7" /><text x="674.30" y="38.58" font-size="6.6" font-weight="bold" fill="#a020f0" text-anchor="start" >500</text><text x="674.30" y="46.21" font-size="6.6" font-weight="bold" fill="#f08020" text-anchor="start" >250</text><text x="674.30" y="53.84" font-size="6.6" font-weight="bold" fill="#111" text-anchor="start" >125</text><text x="674.30" y="61.47" font-size="6.6" font-weight="bold" fill="#a0804a" text-anchor="start" >63</text><text x="674.30" y="69.10" font-size="6.6" font-weight="bold" fill="#202090" text-anchor="start" >31</text><text x="674.30" y="76.73" font-size="6.6" font-weight="bold" fill="#602060" text-anchor="start" >16</text><text x="674.30" y="84.36" font-size="6.6" font-weight="bold" fill="#ffb0b0" text-anchor="start" >8</text><text x="674.30" y="91.99" font-size="6.6" font-weight="bold" fill="#40e0a0" text-anchor="start" >4</text><text x="1.10" y="134.90" font-size="8.6" font-weight="bold" fill="#000" text-anchor="start" >c</text><text x="51.40" y="155.86" font-size="5.16" font-weight="bold" fill="#111" text-anchor="middle" >20ug αDENV2 E</text><text x="51.60" y="161.56" font-size="5.16" font-weight="bold" fill="#111" text-anchor="middle" >IgG1 i.v.</text><line x1="51.40" y1="164.50" x2="51.40" y2="173.50" stroke="#111" stroke-width="1.0" /><path d="M48.8,172.2 L54.0,172.2 L51.4,177.6 Z" stroke="none" stroke-width="1" fill="#111" /><line x1="51.40" y1="186.00" x2="149.00" y2="186.00" stroke="#555" stroke-width="1.5" /><line x1="51.40" y1="180.90" x2="51.40" y2="191.60" stroke="#555" stroke-width="1.1" /><line x1="65.40" y1="180.90" x2="65.40" y2="191.60" stroke="#555" stroke-width="1.1" /><line x1="149.00" y1="180.90" x2="149.00" y2="191.60" stroke="#555" stroke-width="1.1" /><text x="52.00" y="200.58" font-size="6.6" font-weight="bold" fill="#333" text-anchor="middle" >-6hrs</text><text x="64.90" y="201.08" font-size="6.6" font-weight="normal" fill="#111" text-anchor="middle" >0</text><text x="149.50" y="199.91" font-size="6.7" font-weight="normal" fill="#222" text-anchor="middle" >Day 7</text><line x1="65.40" y1="207.00" x2="65.40" y2="216.40" stroke="#111" stroke-width="1.0" /><path d="M62.8,208.2 L68.0,208.2 L65.4,202.8 Z" stroke="none" stroke-width="1" fill="#111" /><text x="45.80" y="222.03" font-size="5.09" font-weight="bold" fill="#111" text-anchor="start" >DENV2 challenge</text><path d="M8.0,182.8 C8.8,181.2 10.2,179.9 12.0,179.2 C13.5,178.4 15.0,178.0 16.5,178.2 C19.5,177.9 23.5,178.1 26.5,179.2 C30.0,180.3 33.0,182.5 33.3,185.3 C33.5,187.3 32.2,188.4 30.2,188.6 C27.5,189.0 24.0,189.0 21.0,188.8 C18.5,188.7 16.5,188.4 15.0,188.0 C13.5,187.5 12.2,186.4 11.2,185.4 C10.2,184.6 9.0,184.1 8.4,183.6 Z" stroke="none" stroke-width="1" fill="#4a4548" /><path d="M14.9,180.8 C14.6,179.2 15.6,178.3 16.7,178.7 C17.4,179.6 16.8,181.0 14.9,180.8 Z" stroke="none" stroke-width="1" fill="#d98c8c" /><circle cx="11.20" cy="181.30" r="0.40" fill="#111" stroke="none" stroke-width="0"/><path d="M13.0,187.6 C12.6,188.4 12.2,189.0 11.4,189.1 L14.2,189.1 M20.8,188.8 C20.8,189.6 21.3,190.2 23.6,190.1" stroke="#d09080" stroke-width="0.7" fill="none" /><path d="M32.6,186.8 C35.6,187.0 38.2,188.4 37.8,190.4 C37.2,192.2 33.0,192.1 28.5,191.5 C25.5,191.1 23.5,190.9 22.0,191.2" stroke="#c98278" stroke-width="0.8" fill="none" /><text x="21.20" y="198.56" font-size="4.9" font-weight="bold" fill="#111" text-anchor="middle" >Ifnar1<tspan font-size="3.2" dy="-1.6">-/-</tspan><tspan dy="1.6">; hFcγR</tspan></text><text x="21.60" y="203.50" font-size="5.0" font-weight="bold" fill="#111" text-anchor="middle" >n=5/6</text><text x="147.50" y="136.20" font-size="9.8" font-weight="bold" fill="#000" text-anchor="start" >d</text><line x1="191.40" y1="139.30" x2="191.40" y2="224.30" stroke="#444" stroke-width="0.9" /><line x1="191.40" y1="224.30" x2="276.20" y2="224.30" stroke="#444" stroke-width="0.9" /><line x1="188.20" y1="216.00" x2="191.40" y2="216.00" stroke="#444" stroke-width="0.9" /><text x="185.30" y="218.12" font-size="5.9" font-weight="bold" fill="#111" text-anchor="end" >80</text><line x1="188.20" y1="198.90" x2="191.40" y2="198.90" stroke="#444" stroke-width="0.9" /><text x="185.30" y="201.02" font-size="5.9" font-weight="bold" fill="#111" text-anchor="end" >90</text><line x1="188.20" y1="181.80" x2="191.40" y2="181.80" stroke="#444" stroke-width="0.9" /><text x="185.30" y="183.92" font-size="5.9" font-weight="bold" fill="#111" text-anchor="end" >100</text><line x1="188.20" y1="164.70" x2="191.40" y2="164.70" stroke="#444" stroke-width="0.9" /><text x="185.30" y="166.82" font-size="5.9" font-weight="bold" fill="#111" text-anchor="end" >110</text><line x1="188.20" y1="147.60" x2="191.40" y2="147.60" stroke="#444" stroke-width="0.9" /><text x="185.30" y="149.72" font-size="5.9" font-weight="bold" fill="#111" text-anchor="end" >120</text><line x1="191.40" y1="224.30" x2="191.40" y2="227.20" stroke="#444" stroke-width="0.9" /><text x="191.40" y="234.32" font-size="5.9" font-weight="bold" fill="#111" text-anchor="middle" >0</text><line x1="212.50" y1="224.30" x2="212.50" y2="227.20" stroke="#444" stroke-width="0.9" /><text x="212.50" y="234.32" font-size="5.9" font-weight="bold" fill="#111" text-anchor="middle" >2</text><line x1="233.60" y1="224.30" x2="233.60" y2="227.20" stroke="#444" stroke-width="0.9" /><text x="233.60" y="234.32" font-size="5.9" font-weight="bold" fill="#111" text-anchor="middle" >4</text><line x1="254.70" y1="224.30" x2="254.70" y2="227.20" stroke="#444" stroke-width="0.9" /><text x="254.70" y="234.32" font-size="5.9" font-weight="bold" fill="#111" text-anchor="middle" >6</text><line x1="275.80" y1="224.30" x2="275.80" y2="227.20" stroke="#444" stroke-width="0.9" /><text x="275.80" y="234.32" font-size="5.9" font-weight="bold" fill="#111" text-anchor="middle" >8</text><text x="234.00" y="245.12" font-size="5.9" font-weight="bold" fill="#111" text-anchor="middle" >Time (d)</text><text transform="translate(170.12,180.00) rotate(-90)" x="0" y="0" font-size="5.9" font-weight="bold" fill="#111" text-anchor="middle">% Weight (from Baseline)</text><line x1="191.40" y1="216.00" x2="276.00" y2="216.00" stroke="#bbb" stroke-width="0.6" stroke-dasharray="2.2 2"/><line x1="201.95" y1="177.53" x2="201.95" y2="182.66" stroke="#f47a7a" stroke-width="0.5" opacity="0.55"/><line x1="200.55" y1="177.53" x2="203.35" y2="177.53" stroke="#f47a7a" stroke-width="0.5" opacity="0.55"/><line x1="200.55" y1="182.66" x2="203.35" y2="182.66" stroke="#f47a7a" stroke-width="0.5" opacity="0.55"/><line x1="212.50" y1="171.54" x2="212.50" y2="178.38" stroke="#f47a7a" stroke-width="0.5" opacity="0.55"/><line x1="211.10" y1="171.54" x2="213.90" y2="171.54" stroke="#f47a7a" stroke-width="0.5" opacity="0.55"/><line x1="211.10" y1="178.38" x2="213.90" y2="178.38" stroke="#f47a7a" stroke-width="0.5" opacity="0.55"/><line x1="223.05" y1="162.14" x2="223.05" y2="170.69" stroke="#f47a7a" stroke-width="0.5" opacity="0.55"/><line x1="221.65" y1="162.14" x2="224.45" y2="162.14" stroke="#f47a7a" stroke-width="0.5" opacity="0.55"/><line x1="221.65" y1="170.69" x2="224.45" y2="170.69" stroke="#f47a7a" stroke-width="0.5" opacity="0.55"/><line x1="233.60" y1="170.34" x2="233.60" y2="177.87" stroke="#f47a7a" stroke-width="0.5" opacity="0.55"/><line x1="232.20" y1="170.34" x2="235.00" y2="170.34" stroke="#f47a7a" stroke-width="0.5" opacity="0.55"/><line x1="232.20" y1="177.87" x2="235.00" y2="177.87" stroke="#f47a7a" stroke-width="0.5" opacity="0.55"/><line x1="244.15" y1="159.06" x2="244.15" y2="171.03" stroke="#f47a7a" stroke-width="0.5" opacity="0.55"/><line x1="242.75" y1="159.06" x2="245.55" y2="159.06" stroke="#f47a7a" stroke-width="0.5" opacity="0.55"/><line x1="242.75" y1="171.03" x2="245.55" y2="171.03" stroke="#f47a7a" stroke-width="0.5" opacity="0.55"/><line x1="254.70" y1="148.11" x2="254.70" y2="162.82" stroke="#f47a7a" stroke-width="0.5" opacity="0.55"/><line x1="253.30" y1="148.11" x2="256.10" y2="148.11" stroke="#f47a7a" stroke-width="0.5" opacity="0.55"/><line x1="253.30" y1="162.82" x2="256.10" y2="162.82" stroke="#f47a7a" stroke-width="0.5" opacity="0.55"/><line x1="265.25" y1="142.13" x2="265.25" y2="159.23" stroke="#f47a7a" stroke-width="0.5" opacity="0.55"/><line x1="263.85" y1="142.13" x2="266.65" y2="142.13" stroke="#f47a7a" stroke-width="0.5" opacity="0.55"/><line x1="263.85" y1="159.23" x2="266.65" y2="159.23" stroke="#f47a7a" stroke-width="0.5" opacity="0.55"/><line x1="201.95" y1="176.67" x2="201.95" y2="181.80" stroke="#9c84d4" stroke-width="0.5" opacity="0.55"/><line x1="200.55" y1="176.67" x2="203.35" y2="176.67" stroke="#9c84d4" stroke-width="0.5" opacity="0.55"/><line x1="200.55" y1="181.80" x2="203.35" y2="181.80" stroke="#9c84d4" stroke-width="0.5" opacity="0.55"/><line x1="212.50" y1="174.62" x2="212.50" y2="182.14" stroke="#9c84d4" stroke-width="0.5" opacity="0.55"/><line x1="211.10" y1="174.62" x2="213.90" y2="174.62" stroke="#9c84d4" stroke-width="0.5" opacity="0.55"/><line x1="211.10" y1="182.14" x2="213.90" y2="182.14" stroke="#9c84d4" stroke-width="0.5" opacity="0.55"/><line x1="223.05" y1="168.98" x2="223.05" y2="175.81" stroke="#9c84d4" stroke-width="0.5" opacity="0.55"/><line x1="221.65" y1="168.98" x2="224.45" y2="168.98" stroke="#9c84d4" stroke-width="0.5" opacity="0.55"/><line x1="221.65" y1="175.81" x2="224.45" y2="175.81" stroke="#9c84d4" stroke-width="0.5" opacity="0.55"/><line x1="233.60" y1="175.81" x2="233.60" y2="186.08" stroke="#9c84d4" stroke-width="0.5" opacity="0.55"/><line x1="232.20" y1="175.81" x2="235.00" y2="175.81" stroke="#9c84d4" stroke-width="0.5" opacity="0.55"/><line x1="232.20" y1="186.08" x2="235.00" y2="186.08" stroke="#9c84d4" stroke-width="0.5" opacity="0.55"/><line x1="244.15" y1="179.41" x2="244.15" y2="193.77" stroke="#9c84d4" stroke-width="0.5" opacity="0.55"/><line x1="242.75" y1="179.41" x2="245.55" y2="179.41" stroke="#9c84d4" stroke-width="0.5" opacity="0.55"/><line x1="242.75" y1="193.77" x2="245.55" y2="193.77" stroke="#9c84d4" stroke-width="0.5" opacity="0.55"/><line x1="254.70" y1="173.76" x2="254.70" y2="192.57" stroke="#9c84d4" stroke-width="0.5" opacity="0.55"/><line x1="253.30" y1="173.76" x2="256.10" y2="173.76" stroke="#9c84d4" stroke-width="0.5" opacity="0.55"/><line x1="253.30" y1="192.57" x2="256.10" y2="192.57" stroke="#9c84d4" stroke-width="0.5" opacity="0.55"/><line x1="265.25" y1="168.46" x2="265.25" y2="188.98" stroke="#9c84d4" stroke-width="0.5" opacity="0.55"/><line x1="263.85" y1="168.46" x2="266.65" y2="168.46" stroke="#9c84d4" stroke-width="0.5" opacity="0.55"/><line x1="263.85" y1="188.98" x2="266.65" y2="188.98" stroke="#9c84d4" stroke-width="0.5" opacity="0.55"/><line x1="201.95" y1="180.95" x2="201.95" y2="187.79" stroke="#b400c0" stroke-width="0.5" opacity="0.55"/><line x1="200.55" y1="180.95" x2="203.35" y2="180.95" stroke="#b400c0" stroke-width="0.5" opacity="0.55"/><line x1="200.55" y1="187.79" x2="203.35" y2="187.79" stroke="#b400c0" stroke-width="0.5" opacity="0.55"/><line x1="212.50" y1="184.37" x2="212.50" y2="196.34" stroke="#b400c0" stroke-width="0.5" opacity="0.55"/><line x1="211.10" y1="184.37" x2="213.90" y2="184.37" stroke="#b400c0" stroke-width="0.5" opacity="0.55"/><line x1="211.10" y1="196.34" x2="213.90" y2="196.34" stroke="#b400c0" stroke-width="0.5" opacity="0.55"/><line x1="223.05" y1="190.35" x2="223.05" y2="205.74" stroke="#b400c0" stroke-width="0.5" opacity="0.55"/><line x1="221.65" y1="190.35" x2="224.45" y2="190.35" stroke="#b400c0" stroke-width="0.5" opacity="0.55"/><line x1="221.65" y1="205.74" x2="224.45" y2="205.74" stroke="#b400c0" stroke-width="0.5" opacity="0.55"/><line x1="233.60" y1="192.92" x2="233.60" y2="210.02" stroke="#b400c0" stroke-width="0.5" opacity="0.55"/><line x1="232.20" y1="192.92" x2="235.00" y2="192.92" stroke="#b400c0" stroke-width="0.5" opacity="0.55"/><line x1="232.20" y1="210.02" x2="235.00" y2="210.02" stroke="#b400c0" stroke-width="0.5" opacity="0.55"/><line x1="244.15" y1="193.77" x2="244.15" y2="210.87" stroke="#b400c0" stroke-width="0.5" opacity="0.55"/><line x1="242.75" y1="193.77" x2="245.55" y2="193.77" stroke="#b400c0" stroke-width="0.5" opacity="0.55"/><line x1="242.75" y1="210.87" x2="245.55" y2="210.87" stroke="#b400c0" stroke-width="0.5" opacity="0.55"/><line x1="254.70" y1="193.77" x2="254.70" y2="210.87" stroke="#b400c0" stroke-width="0.5" opacity="0.55"/><line x1="253.30" y1="193.77" x2="256.10" y2="193.77" stroke="#b400c0" stroke-width="0.5" opacity="0.55"/><line x1="253.30" y1="210.87" x2="256.10" y2="210.87" stroke="#b400c0" stroke-width="0.5" opacity="0.55"/><line x1="265.25" y1="183.51" x2="265.25" y2="205.74" stroke="#b400c0" stroke-width="0.5" opacity="0.55"/><line x1="263.85" y1="183.51" x2="266.65" y2="183.51" stroke="#b400c0" stroke-width="0.5" opacity="0.55"/><line x1="263.85" y1="205.74" x2="266.65" y2="205.74" stroke="#b400c0" stroke-width="0.5" opacity="0.55"/><line x1="201.95" y1="174.45" x2="201.95" y2="180.60" stroke="#1ec8f5" stroke-width="0.5" opacity="0.55"/><line x1="200.55" y1="174.45" x2="203.35" y2="174.45" stroke="#1ec8f5" stroke-width="0.5" opacity="0.55"/><line x1="200.55" y1="180.60" x2="203.35" y2="180.60" stroke="#1ec8f5" stroke-width="0.5" opacity="0.55"/><line x1="212.50" y1="182.66" x2="212.50" y2="194.62" stroke="#1ec8f5" stroke-width="0.5" opacity="0.55"/><line x1="211.10" y1="182.66" x2="213.90" y2="182.66" stroke="#1ec8f5" stroke-width="0.5" opacity="0.55"/><line x1="211.10" y1="194.62" x2="213.90" y2="194.62" stroke="#1ec8f5" stroke-width="0.5" opacity="0.55"/><line x1="223.05" y1="189.50" x2="223.05" y2="206.59" stroke="#1ec8f5" stroke-width="0.5" opacity="0.55"/><line x1="221.65" y1="189.50" x2="224.45" y2="189.50" stroke="#1ec8f5" stroke-width="0.5" opacity="0.55"/><line x1="221.65" y1="206.59" x2="224.45" y2="206.59" stroke="#1ec8f5" stroke-width="0.5" opacity="0.55"/><line x1="233.60" y1="191.21" x2="233.60" y2="210.02" stroke="#1ec8f5" stroke-width="0.5" opacity="0.55"/><line x1="232.20" y1="191.21" x2="235.00" y2="191.21" stroke="#1ec8f5" stroke-width="0.5" opacity="0.55"/><line x1="232.20" y1="210.02" x2="235.00" y2="210.02" stroke="#1ec8f5" stroke-width="0.5" opacity="0.55"/><line x1="244.15" y1="193.77" x2="244.15" y2="210.87" stroke="#1ec8f5" stroke-width="0.5" opacity="0.55"/><line x1="242.75" y1="193.77" x2="245.55" y2="193.77" stroke="#1ec8f5" stroke-width="0.5" opacity="0.55"/><line x1="242.75" y1="210.87" x2="245.55" y2="210.87" stroke="#1ec8f5" stroke-width="0.5" opacity="0.55"/><line x1="254.70" y1="191.21" x2="254.70" y2="210.02" stroke="#1ec8f5" stroke-width="0.5" opacity="0.55"/><line x1="253.30" y1="191.21" x2="256.10" y2="191.21" stroke="#1ec8f5" stroke-width="0.5" opacity="0.55"/><line x1="253.30" y1="210.02" x2="256.10" y2="210.02" stroke="#1ec8f5" stroke-width="0.5" opacity="0.55"/><line x1="265.25" y1="183.51" x2="265.25" y2="209.16" stroke="#1ec8f5" stroke-width="0.5" opacity="0.55"/><line x1="263.85" y1="183.51" x2="266.65" y2="183.51" stroke="#1ec8f5" stroke-width="0.5" opacity="0.55"/><line x1="263.85" y1="209.16" x2="266.65" y2="209.16" stroke="#1ec8f5" stroke-width="0.5" opacity="0.55"/><path d="M191.40,181.80 L201.95,180.09 L212.50,174.96 L223.05,166.41 L233.60,174.11 L244.15,165.04 L254.70,155.47 L265.25,150.68" stroke="#f47a7a" stroke-width="0.9" fill="none" stroke-linejoin="round"/><circle cx="191.40" cy="181.80" r="0.90" fill="#f47a7a" stroke="none" stroke-width="0"/><circle cx="201.95" cy="180.09" r="0.90" fill="#f47a7a" stroke="none" stroke-width="0"/><circle cx="212.50" cy="174.96" r="0.90" fill="#f47a7a" stroke="none" stroke-width="0"/><circle cx="223.05" cy="166.41" r="0.90" fill="#f47a7a" stroke="none" stroke-width="0"/><circle cx="233.60" cy="174.11" r="0.90" fill="#f47a7a" stroke="none" stroke-width="0"/><circle cx="244.15" cy="165.04" r="0.90" fill="#f47a7a" stroke="none" stroke-width="0"/><circle cx="254.70" cy="155.47" r="0.90" fill="#f47a7a" stroke="none" stroke-width="0"/><circle cx="265.25" cy="150.68" r="0.90" fill="#f47a7a" stroke="none" stroke-width="0"/><path d="M191.40,181.80 L201.95,179.24 L212.50,178.38 L223.05,172.40 L233.60,180.95 L244.15,186.59 L254.70,183.17 L265.25,178.72" stroke="#9c84d4" stroke-width="0.9" fill="none" stroke-linejoin="round"/><circle cx="191.40" cy="181.80" r="0.90" fill="#9c84d4" stroke="none" stroke-width="0"/><circle cx="201.95" cy="179.24" r="0.90" fill="#9c84d4" stroke="none" stroke-width="0"/><circle cx="212.50" cy="178.38" r="0.90" fill="#9c84d4" stroke="none" stroke-width="0"/><circle cx="223.05" cy="172.40" r="0.90" fill="#9c84d4" stroke="none" stroke-width="0"/><circle cx="233.60" cy="180.95" r="0.90" fill="#9c84d4" stroke="none" stroke-width="0"/><circle cx="244.15" cy="186.59" r="0.90" fill="#9c84d4" stroke="none" stroke-width="0"/><circle cx="254.70" cy="183.17" r="0.90" fill="#9c84d4" stroke="none" stroke-width="0"/><circle cx="265.25" cy="178.72" r="0.90" fill="#9c84d4" stroke="none" stroke-width="0"/><path d="M191.40,181.80 L201.95,184.37 L212.50,190.35 L223.05,198.05 L233.60,201.47 L244.15,202.32 L254.70,202.32 L265.25,194.62" stroke="#b400c0" stroke-width="1.3" fill="none" stroke-linejoin="round"/><circle cx="191.40" cy="181.80" r="0.90" fill="#b400c0" stroke="none" stroke-width="0"/><circle cx="201.95" cy="184.37" r="0.90" fill="#b400c0" stroke="none" stroke-width="0"/><circle cx="212.50" cy="190.35" r="0.90" fill="#b400c0" stroke="none" stroke-width="0"/><circle cx="223.05" cy="198.05" r="0.90" fill="#b400c0" stroke="none" stroke-width="0"/><circle cx="233.60" cy="201.47" r="0.90" fill="#b400c0" stroke="none" stroke-width="0"/><circle cx="244.15" cy="202.32" r="0.90" fill="#b400c0" stroke="none" stroke-width="0"/><circle cx="254.70" cy="202.32" r="0.90" fill="#b400c0" stroke="none" stroke-width="0"/><circle cx="265.25" cy="194.62" r="0.90" fill="#b400c0" stroke="none" stroke-width="0"/><path d="M191.40,181.80 L201.95,177.53 L212.50,188.64 L223.05,198.05 L233.60,200.61 L244.15,202.32 L254.70,200.61 L265.25,196.34" stroke="#1ec8f5" stroke-width="1.3" fill="none" stroke-linejoin="round"/><circle cx="191.40" cy="181.80" r="0.90" fill="#1ec8f5" stroke="none" stroke-width="0"/><circle cx="201.95" cy="177.53" r="0.90" fill="#1ec8f5" stroke="none" stroke-width="0"/><circle cx="212.50" cy="188.64" r="0.90" fill="#1ec8f5" stroke="none" stroke-width="0"/><circle cx="223.05" cy="198.05" r="0.90" fill="#1ec8f5" stroke="none" stroke-width="0"/><circle cx="233.60" cy="200.61" r="0.90" fill="#1ec8f5" stroke="none" stroke-width="0"/><circle cx="244.15" cy="202.32" r="0.90" fill="#1ec8f5" stroke="none" stroke-width="0"/><circle cx="254.70" cy="200.61" r="0.90" fill="#1ec8f5" stroke="none" stroke-width="0"/><circle cx="265.25" cy="196.34" r="0.90" fill="#1ec8f5" stroke="none" stroke-width="0"/><text x="275.40" y="151.09" font-size="5.8" font-weight="bold" fill="#f47a7a" text-anchor="start" >FcR null</text><text x="275.40" y="177.89" font-size="5.8" font-weight="bold" fill="#9c84d4" text-anchor="start" >bifucosylated</text><text x="275.40" y="196.79" font-size="5.8" font-weight="bold" fill="#b400c0" text-anchor="start" >afucosylated</text><text x="275.40" y="203.79" font-size="5.8" font-weight="bold" fill="#1ea0f0" text-anchor="start" >monofucosylated</text><text x="327.80" y="134.90" font-size="9.3" font-weight="bold" fill="#000" text-anchor="start" >e</text><line x1="367.00" y1="144.30" x2="367.00" y2="231.70" stroke="#888" stroke-width="0.9" /><line x1="367.00" y1="231.70" x2="454.80" y2="231.70" stroke="#888" stroke-width="0.9" /><line x1="364.20" y1="231.70" x2="367.00" y2="231.70" stroke="#888" stroke-width="0.9" /><text x="363.40" y="233.82" font-size="5.9" font-weight="bold" fill="#111" text-anchor="end" >0</text><line x1="364.20" y1="214.20" x2="367.00" y2="214.20" stroke="#888" stroke-width="0.9" /><text x="363.40" y="216.32" font-size="5.9" font-weight="bold" fill="#111" text-anchor="end" >50</text><line x1="364.20" y1="196.70" x2="367.00" y2="196.70" stroke="#888" stroke-width="0.9" /><text x="363.40" y="198.82" font-size="5.9" font-weight="bold" fill="#111" text-anchor="end" >100</text><line x1="364.20" y1="179.20" x2="367.00" y2="179.20" stroke="#888" stroke-width="0.9" /><text x="363.40" y="181.32" font-size="5.9" font-weight="bold" fill="#111" text-anchor="end" >150</text><line x1="364.20" y1="161.70" x2="367.00" y2="161.70" stroke="#888" stroke-width="0.9" /><text x="363.40" y="163.82" font-size="5.9" font-weight="bold" fill="#111" text-anchor="end" >200</text><line x1="364.20" y1="144.20" x2="367.00" y2="144.20" stroke="#888" stroke-width="0.9" /><text x="363.40" y="146.32" font-size="5.9" font-weight="bold" fill="#111" text-anchor="end" >250</text><text transform="translate(348.02,186.90) rotate(-90)" x="0" y="0" font-size="6.17" font-weight="bold" fill="#111" text-anchor="middle">AUC (weight loss)</text><line x1="380.65" y1="202.30" x2="380.65" y2="195.30" stroke="#333" stroke-width="0.7" /><line x1="377.45" y1="195.30" x2="383.85" y2="195.30" stroke="#333" stroke-width="0.7" /><rect x="374.00" y="202.30" width="13.30" height="29.40" fill="#c000c0" stroke="#333" stroke-width="0.6" rx="0" /><line x1="400.80" y1="199.85" x2="400.80" y2="192.15" stroke="#333" stroke-width="0.7" /><line x1="397.60" y1="192.15" x2="404.00" y2="192.15" stroke="#333" stroke-width="0.7" /><rect x="394.00" y="199.85" width="13.60" height="31.85" fill="#1ec0f5" stroke="#333" stroke-width="0.6" rx="0" /><line x1="421.00" y1="180.60" x2="421.00" y2="175.00" stroke="#333" stroke-width="0.7" /><line x1="417.80" y1="175.00" x2="424.20" y2="175.00" stroke="#333" stroke-width="0.7" /><rect x="414.00" y="180.60" width="14.00" height="51.10" fill="#a08ad0" stroke="#333" stroke-width="0.6" rx="0" /><line x1="440.85" y1="163.45" x2="440.85" y2="159.95" stroke="#333" stroke-width="0.7" /><line x1="437.65" y1="159.95" x2="444.05" y2="159.95" stroke="#333" stroke-width="0.7" /><rect x="434.10" y="163.45" width="13.50" height="68.25" fill="#fd7b7b" stroke="#333" stroke-width="0.6" rx="0" /><text x="400.30" y="145.79" font-size="5.8" font-weight="normal" fill="#222" text-anchor="middle" >0.0001</text><line x1="380.30" y1="152.30" x2="421.00" y2="152.30" stroke="#555" stroke-width="0.8" /><text x="410.20" y="162.59" font-size="5.8" font-weight="normal" fill="#222" text-anchor="middle" >0.0009</text><line x1="400.30" y1="169.40" x2="421.00" y2="169.40" stroke="#555" stroke-width="0.8" /><text x="390.30" y="179.69" font-size="5.8" font-weight="normal" fill="#222" text-anchor="middle" >&gt;0.9999</text><line x1="381.30" y1="185.80" x2="400.70" y2="185.80" stroke="#bbb" stroke-width="0.8" /><text x="457.70" y="202.95" font-size="5.98" font-weight="bold" fill="#b000c0" text-anchor="start" >afucosylated</text><text x="457.70" y="209.85" font-size="5.98" font-weight="bold" fill="#1ec0f5" text-anchor="start" >monofucosylated</text><text x="457.70" y="216.85" font-size="5.98" font-weight="bold" fill="#9084d0" text-anchor="start" >bifucosylated</text><text x="457.70" y="223.65" font-size="5.98" font-weight="bold" fill="#ff6e6e" text-anchor="start" >FcR null</text><text x="505.20" y="137.32" font-size="8.1" font-weight="bold" fill="#000" text-anchor="start" >f</text><line x1="542.30" y1="143.80" x2="542.30" y2="229.40" stroke="#777" stroke-width="0.9" /><line x1="542.30" y1="229.40" x2="628.20" y2="229.40" stroke="#777" stroke-width="0.9" /><line x1="540.10" y1="229.00" x2="542.30" y2="229.00" stroke="#777" stroke-width="0.9" /><text x="539.00" y="231.48" font-size="6.9" font-weight="bold" fill="#111" text-anchor="end" >0</text><line x1="540.10" y1="190.35" x2="542.30" y2="190.35" stroke="#777" stroke-width="0.9" /><text x="539.00" y="192.83" font-size="6.9" font-weight="bold" fill="#111" text-anchor="end" >50</text><line x1="540.10" y1="151.70" x2="542.30" y2="151.70" stroke="#777" stroke-width="0.9" /><text x="539.00" y="154.18" font-size="6.9" font-weight="bold" fill="#111" text-anchor="end" >100</text><line x1="542.30" y1="229.40" x2="542.30" y2="231.60" stroke="#777" stroke-width="0.9" /><text x="542.30" y="240.28" font-size="6.9" font-weight="bold" fill="#111" text-anchor="middle" >0</text><line x1="563.76" y1="229.40" x2="563.76" y2="231.60" stroke="#777" stroke-width="0.9" /><text x="563.76" y="240.28" font-size="6.9" font-weight="bold" fill="#111" text-anchor="middle" >2</text><line x1="585.22" y1="229.40" x2="585.22" y2="231.60" stroke="#777" stroke-width="0.9" /><text x="585.22" y="240.28" font-size="6.9" font-weight="bold" fill="#111" text-anchor="middle" >4</text><line x1="606.68" y1="229.40" x2="606.68" y2="231.60" stroke="#777" stroke-width="0.9" /><text x="606.68" y="240.28" font-size="6.9" font-weight="bold" fill="#111" text-anchor="middle" >6</text><line x1="628.14" y1="229.40" x2="628.14" y2="231.60" stroke="#777" stroke-width="0.9" /><text x="628.14" y="240.28" font-size="6.9" font-weight="bold" fill="#111" text-anchor="middle" >8</text><text x="585.00" y="247.98" font-size="6.9" font-weight="bold" fill="#111" text-anchor="middle" >Time (d)</text><text transform="translate(527.31,193.20) rotate(-90)" x="0" y="0" font-size="7.26" font-weight="normal" fill="#111" text-anchor="middle">% Survival</text><path d="M542.3,152.29999999999998 H606.68 V167.16 H617.41" stroke="#9c84d4" stroke-width="1.6" fill="none" /><path d="M542.3,150.0 H617.41" stroke="#f88080" stroke-width="1.6" fill="none" /><path d="M542.3,151.7 H574.49 V164.6091 H585.2199999999999 V190.35 H617.41" stroke="#b400c0" stroke-width="1.6" fill="none" /><path d="M542.3,151.7 H574.49 V167.16 H585.2199999999999 V182.62 H595.9499999999999 V198.07999999999998 H617.41" stroke="#1ec8f5" stroke-width="1.6" fill="none" /><text x="622.50" y="153.83" font-size="7.02" font-weight="bold" fill="#f88080" text-anchor="start" >FcR null</text><text x="622.50" y="171.33" font-size="7.02" font-weight="bold" fill="#9c84d4" text-anchor="start" >bifucosylated</text><text x="622.50" y="195.93" font-size="7.02" font-weight="bold" fill="#b400c0" text-anchor="start" >afucosylated</text><text x="622.50" y="204.13" font-size="7.02" font-weight="bold" fill="#1ec8f5" text-anchor="start" >monofucosylated</text><text x="59.60" y="269.94" font-size="9.0" font-weight="bold" fill="#000" text-anchor="start" >g</text><line x1="81.30" y1="280.70" x2="162.20" y2="280.70" stroke="#cfcfcf" stroke-width="0.9" /><line x1="162.20" y1="280.70" x2="162.20" y2="368.60" stroke="#cfcfcf" stroke-width="0.9" /><line x1="81.30" y1="280.70" x2="81.30" y2="365.10" stroke="#b5b5b5" stroke-width="0.5" /><line x1="81.30" y1="364.60" x2="162.20" y2="364.60" stroke="#b5b5b5" stroke-width="0.5" /><line x1="79.10" y1="281.30" x2="81.60" y2="281.30" stroke="#111" stroke-width="0.8" /><line x1="79.10" y1="296.00" x2="81.60" y2="296.00" stroke="#111" stroke-width="0.8" /><line x1="79.10" y1="312.30" x2="81.60" y2="312.30" stroke="#111" stroke-width="0.8" /><line x1="79.10" y1="333.20" x2="81.60" y2="333.20" stroke="#111" stroke-width="0.8" /><line x1="80.10" y1="291.57" x2="81.30" y2="291.57" stroke="#333" stroke-width="0.6" /><line x1="80.10" y1="288.99" x2="81.30" y2="288.99" stroke="#333" stroke-width="0.6" /><line x1="80.10" y1="287.15" x2="81.30" y2="287.15" stroke="#333" stroke-width="0.6" /><line x1="80.10" y1="285.73" x2="81.30" y2="285.73" stroke="#333" stroke-width="0.6" /><line x1="80.10" y1="284.56" x2="81.30" y2="284.56" stroke="#333" stroke-width="0.6" /><line x1="80.10" y1="283.58" x2="81.30" y2="283.58" stroke="#333" stroke-width="0.6" /><line x1="80.10" y1="282.72" x2="81.30" y2="282.72" stroke="#333" stroke-width="0.6" /><line x1="80.10" y1="281.97" x2="81.30" y2="281.97" stroke="#333" stroke-width="0.6" /><line x1="80.10" y1="307.39" x2="81.30" y2="307.39" stroke="#333" stroke-width="0.6" /><line x1="80.10" y1="304.52" x2="81.30" y2="304.52" stroke="#333" stroke-width="0.6" /><line x1="80.10" y1="302.49" x2="81.30" y2="302.49" stroke="#333" stroke-width="0.6" /><line x1="80.10" y1="300.91" x2="81.30" y2="300.91" stroke="#333" stroke-width="0.6" /><line x1="80.10" y1="299.62" x2="81.30" y2="299.62" stroke="#333" stroke-width="0.6" /><line x1="80.10" y1="298.52" x2="81.30" y2="298.52" stroke="#333" stroke-width="0.6" /><line x1="80.10" y1="297.58" x2="81.30" y2="297.58" stroke="#333" stroke-width="0.6" /><line x1="80.10" y1="296.75" x2="81.30" y2="296.75" stroke="#333" stroke-width="0.6" /><line x1="80.10" y1="317.30" x2="81.30" y2="317.30" stroke="#333" stroke-width="0.6" /><line x1="80.10" y1="322.30" x2="81.30" y2="322.30" stroke="#333" stroke-width="0.6" /><line x1="80.10" y1="327.30" x2="81.30" y2="327.30" stroke="#333" stroke-width="0.6" /><line x1="80.10" y1="337.20" x2="81.30" y2="337.20" stroke="#333" stroke-width="0.6" /><line x1="80.10" y1="340.70" x2="81.30" y2="340.70" stroke="#333" stroke-width="0.6" /><line x1="80.10" y1="344.20" x2="81.30" y2="344.20" stroke="#333" stroke-width="0.6" /><line x1="80.10" y1="347.70" x2="81.30" y2="347.70" stroke="#333" stroke-width="0.6" /><line x1="80.10" y1="351.20" x2="81.30" y2="351.20" stroke="#333" stroke-width="0.6" /><line x1="80.10" y1="357.20" x2="81.30" y2="357.20" stroke="#333" stroke-width="0.6" /><line x1="80.10" y1="362.20" x2="81.30" y2="362.20" stroke="#333" stroke-width="0.6" /><text transform="translate(78.10,282.90) rotate(-60)" font-size="2.6" fill="#333" text-anchor="middle">10<tspan font-size="1.8" dy="-1">5</tspan></text><text transform="translate(78.10,297.60) rotate(-60)" font-size="2.6" fill="#333" text-anchor="middle">10<tspan font-size="1.8" dy="-1">4</tspan></text><text transform="translate(78.10,313.90) rotate(-60)" font-size="2.6" fill="#333" text-anchor="middle">10<tspan font-size="1.8" dy="-1">3</tspan></text><text transform="translate(78.10,334.80) rotate(-60)" font-size="2.6" fill="#333" text-anchor="middle">10<tspan font-size="1.8" dy="-1">2</tspan></text><text transform="translate(76.30,341.90)" font-size="2.6" fill="#333" text-anchor="middle">0</text><rect x="79.90" y="339.70" width="1.80" height="2.40" fill="#111" stroke="none" stroke-width="0" rx="0" /><line x1="88.58" y1="364.60" x2="88.58" y2="367.20" stroke="#111" stroke-width="0.8" /><text transform="translate(88.58,371.60) rotate(-30)" font-size="2.6" fill="#333" text-anchor="middle">-10<tspan font-size="1.8" dy="-1">3</tspan></text><line x1="106.38" y1="364.60" x2="106.38" y2="367.20" stroke="#111" stroke-width="0.8" /><text transform="translate(106.38,371.60) rotate(-30)" font-size="2.6" fill="#333" text-anchor="middle">0</text><line x1="126.60" y1="364.60" x2="126.60" y2="367.20" stroke="#111" stroke-width="0.8" /><text transform="translate(126.60,371.60) rotate(-30)" font-size="2.6" fill="#333" text-anchor="middle">10<tspan font-size="1.8" dy="-1">3</tspan></text><line x1="146.02" y1="364.60" x2="146.02" y2="367.20" stroke="#111" stroke-width="0.8" /><text transform="translate(146.02,371.60) rotate(-30)" font-size="2.6" fill="#333" text-anchor="middle">10<tspan font-size="1.8" dy="-1">4</tspan></text><line x1="159.77" y1="364.60" x2="159.77" y2="367.20" stroke="#111" stroke-width="0.8" /><text transform="translate(159.77,371.60) rotate(-30)" font-size="2.6" fill="#333" text-anchor="middle">10<tspan font-size="1.8" dy="-1">5</tspan></text><line x1="132.45" y1="364.60" x2="132.45" y2="365.90" stroke="#333" stroke-width="0.6" /><line x1="135.87" y1="364.60" x2="135.87" y2="365.90" stroke="#333" stroke-width="0.6" /><line x1="138.29" y1="364.60" x2="138.29" y2="365.90" stroke="#333" stroke-width="0.6" /><line x1="140.18" y1="364.60" x2="140.18" y2="365.90" stroke="#333" stroke-width="0.6" /><line x1="141.71" y1="364.60" x2="141.71" y2="365.90" stroke="#333" stroke-width="0.6" /><line x1="143.01" y1="364.60" x2="143.01" y2="365.90" stroke="#333" stroke-width="0.6" /><line x1="144.14" y1="364.60" x2="144.14" y2="365.90" stroke="#333" stroke-width="0.6" /><line x1="145.13" y1="364.60" x2="145.13" y2="365.90" stroke="#333" stroke-width="0.6" /><line x1="150.16" y1="364.60" x2="150.16" y2="365.90" stroke="#333" stroke-width="0.6" /><line x1="152.58" y1="364.60" x2="152.58" y2="365.90" stroke="#333" stroke-width="0.6" /><line x1="154.30" y1="364.60" x2="154.30" y2="365.90" stroke="#333" stroke-width="0.6" /><line x1="155.63" y1="364.60" x2="155.63" y2="365.90" stroke="#333" stroke-width="0.6" /><line x1="156.72" y1="364.60" x2="156.72" y2="365.90" stroke="#333" stroke-width="0.6" /><line x1="157.64" y1="364.60" x2="157.64" y2="365.90" stroke="#333" stroke-width="0.6" /><line x1="158.44" y1="364.60" x2="158.44" y2="365.90" stroke="#333" stroke-width="0.6" /><line x1="159.14" y1="364.60" x2="159.14" y2="365.90" stroke="#333" stroke-width="0.6" /><line x1="92.08" y1="364.60" x2="92.08" y2="365.90" stroke="#333" stroke-width="0.6" /><line x1="95.58" y1="364.60" x2="95.58" y2="365.90" stroke="#333" stroke-width="0.6" /><line x1="99.08" y1="364.60" x2="99.08" y2="365.90" stroke="#333" stroke-width="0.6" /><line x1="110.38" y1="364.60" x2="110.38" y2="365.90" stroke="#333" stroke-width="0.6" /><line x1="114.38" y1="364.60" x2="114.38" y2="365.90" stroke="#333" stroke-width="0.6" /><line x1="118.38" y1="364.60" x2="118.38" y2="365.90" stroke="#333" stroke-width="0.6" /><line x1="122.38" y1="364.60" x2="122.38" y2="365.90" stroke="#333" stroke-width="0.6" /><rect x="103.98" y="364.80" width="4.40" height="1.80" fill="#111" stroke="none" stroke-width="0" rx="0" /><text x="120.90" y="275.15" font-size="7.08" font-weight="bold" fill="#d23ea6" text-anchor="middle" >Afucosylated αCD4 IgG1</text><rect x="93.50" y="300.40" width="17.30" height="27.10" fill="none" stroke="#444" stroke-width="0.75" rx="0.4" /><rect x="111.90" y="328.20" width="39.80" height="31.20" fill="none" stroke="#444" stroke-width="0.75" rx="0.4" /><path d="M105.76,313.60 L105.58,315.22 L105.26,316.77 L104.74,318.19 L103.98,319.33 L103.01,320.06 L101.98,320.39 L101.03,320.54 L100.17,320.79 L99.30,321.25 L98.31,321.78 L97.20,322.02 L96.09,321.72 L95.14,320.85 L94.40,319.62 L93.83,318.22 L93.38,316.75 L93.05,315.21 L92.94,313.60 L93.15,312.02 L93.66,310.60 L94.33,309.41 L95.02,308.35 L95.69,307.31 L96.40,306.26 L97.26,305.39 L98.26,304.94 L99.30,305.03 L100.28,305.51 L101.16,306.11 L102.05,306.65 L103.00,307.16 L103.99,307.84 L104.88,308.89 L105.49,310.31 L105.76,311.93 Z" fill="#aaa" fill-opacity="0.20" stroke="#999" stroke-width="0.35" stroke-opacity="1.00"/><path d="M104.63,313.60 L104.49,314.94 L104.22,316.22 L103.79,317.39 L103.16,318.34 L102.36,318.94 L101.51,319.21 L100.73,319.33 L100.02,319.54 L99.30,319.92 L98.49,320.35 L97.57,320.55 L96.65,320.30 L95.86,319.59 L95.25,318.57 L94.78,317.41 L94.41,316.20 L94.13,314.93 L94.05,313.60 L94.22,312.29 L94.64,311.12 L95.20,310.14 L95.77,309.27 L96.32,308.40 L96.90,307.54 L97.61,306.82 L98.44,306.45 L99.30,306.52 L100.11,306.92 L100.84,307.42 L101.57,307.86 L102.36,308.28 L103.18,308.85 L103.91,309.71 L104.41,310.88 L104.64,312.22 Z" fill="#777" fill-opacity="0.22" stroke="#555" stroke-width="0.45" stroke-opacity="1.00"/><path d="M103.68,313.60 L103.56,314.70 L103.34,315.75 L102.99,316.71 L102.47,317.49 L101.82,317.98 L101.12,318.20 L100.47,318.30 L99.89,318.47 L99.30,318.79 L98.63,319.14 L97.88,319.31 L97.13,319.10 L96.48,318.52 L95.97,317.68 L95.59,316.73 L95.28,315.74 L95.06,314.69 L94.99,313.60 L95.13,312.53 L95.47,311.57 L95.93,310.76 L96.40,310.04 L96.85,309.33 L97.33,308.62 L97.91,308.03 L98.59,307.73 L99.30,307.78 L99.96,308.11 L100.56,308.52 L101.16,308.89 L101.81,309.23 L102.48,309.70 L103.08,310.41 L103.50,311.37 L103.68,312.47 Z" fill="#666" fill-opacity="0.22" stroke="#444" stroke-width="0.45" stroke-opacity="1.00"/><path d="M102.67,313.60 L102.58,314.44 L102.41,315.25 L102.14,316.00 L101.74,316.59 L101.24,316.97 L100.70,317.14 L100.20,317.22 L99.75,317.35 L99.30,317.59 L98.79,317.87 L98.21,317.99 L97.63,317.83 L97.13,317.38 L96.74,316.74 L96.45,316.01 L96.21,315.24 L96.04,314.44 L95.98,313.60 L96.09,312.77 L96.36,312.03 L96.71,311.41 L97.07,310.86 L97.42,310.32 L97.79,309.77 L98.23,309.32 L98.75,309.08 L99.30,309.13 L99.81,309.38 L100.27,309.69 L100.73,309.97 L101.23,310.24 L101.75,310.60 L102.21,311.14 L102.53,311.88 L102.67,312.73 Z" fill="#555" fill-opacity="0.25" stroke="#333" stroke-width="0.45" stroke-opacity="1.00"/><path d="M101.66,313.60 L101.59,314.19 L101.48,314.76 L101.29,315.28 L101.01,315.69 L100.65,315.96 L100.28,316.08 L99.93,316.13 L99.62,316.22 L99.30,316.40 L98.94,316.59 L98.53,316.67 L98.13,316.56 L97.78,316.25 L97.51,315.80 L97.30,315.29 L97.14,314.75 L97.02,314.19 L96.98,313.60 L97.05,313.02 L97.24,312.50 L97.49,312.07 L97.74,311.68 L97.98,311.30 L98.24,310.92 L98.55,310.60 L98.92,310.44 L99.30,310.47 L99.66,310.64 L99.98,310.87 L100.30,311.06 L100.65,311.25 L101.01,311.50 L101.34,311.88 L101.56,312.40 L101.66,312.99 Z" fill="#444" fill-opacity="0.30" stroke="#333" stroke-width="0.45" stroke-opacity="1.00"/><path d="M100.70,313.60 L100.66,313.95 L100.59,314.29 L100.48,314.60 L100.32,314.85 L100.11,315.00 L99.88,315.08 L99.68,315.11 L99.49,315.16 L99.30,315.26 L99.09,315.38 L98.84,315.43 L98.60,315.36 L98.39,315.18 L98.23,314.91 L98.11,314.60 L98.01,314.29 L97.94,313.95 L97.92,313.60 L97.96,313.26 L98.07,312.95 L98.22,312.69 L98.37,312.46 L98.51,312.23 L98.67,312.00 L98.86,311.81 L99.07,311.72 L99.30,311.74 L99.51,311.84 L99.71,311.97 L99.90,312.09 L100.10,312.20 L100.32,312.35 L100.51,312.58 L100.65,312.88 L100.70,313.24 Z" fill="#333" fill-opacity="0.50" stroke="#222" stroke-width="0.5" stroke-opacity="1.00"/><path d="M102.70,323.80 L102.58,324.29 L102.31,324.72 L101.93,325.06 L101.55,325.32 L101.21,325.60 L100.92,325.93 L100.58,326.31 L100.14,326.65 L99.60,326.85 L99.02,326.84 L98.48,326.67 L97.99,326.41 L97.55,326.09 L97.15,325.72 L96.86,325.28 L96.70,324.78 L96.70,324.28 L96.81,323.80 L96.93,323.36 L97.03,322.93 L97.13,322.47 L97.32,322.01 L97.64,321.62 L98.09,321.37 L98.60,321.24 L99.11,321.19 L99.60,321.15 L100.11,321.09 L100.66,321.08 L101.22,321.18 L101.71,321.45 L102.09,321.85 L102.36,322.31 L102.55,322.80 L102.67,323.29 Z" fill="none" fill-opacity="0.00" stroke="#888" stroke-width="0.4" stroke-opacity="0.60"/><path d="M101.46,323.80 L101.39,324.09 L101.22,324.35 L101.00,324.55 L100.77,324.71 L100.57,324.88 L100.39,325.08 L100.19,325.31 L99.92,325.51 L99.60,325.63 L99.25,325.63 L98.93,325.52 L98.63,325.36 L98.37,325.17 L98.13,324.95 L97.95,324.69 L97.86,324.39 L97.86,324.09 L97.92,323.80 L98.00,323.54 L98.06,323.28 L98.12,323.00 L98.23,322.73 L98.43,322.49 L98.70,322.34 L99.00,322.27 L99.30,322.24 L99.60,322.21 L99.91,322.17 L100.24,322.17 L100.57,322.23 L100.87,322.39 L101.09,322.63 L101.25,322.91 L101.37,323.20 L101.44,323.50 Z" fill="none" fill-opacity="0.00" stroke="#999" stroke-width="0.35" stroke-opacity="0.60"/><text x="119.60" y="312.42" font-size="3.4" font-weight="bold" fill="#222" text-anchor="middle" >CD8+</text><text x="119.60" y="316.92" font-size="3.4" font-weight="bold" fill="#222" text-anchor="middle" >98.7</text><text x="107.30" y="343.62" font-size="3.4" font-weight="bold" fill="#222" text-anchor="middle" >CD4+</text><text x="107.30" y="348.12" font-size="3.4" font-weight="bold" fill="#222" text-anchor="middle" >0.00</text><circle cx="87.11" cy="317.48" r="0.30" fill="#999" stroke="none" stroke-width="0"/><circle cx="89.53" cy="290.77" r="0.30" fill="#999" stroke="none" stroke-width="0"/><circle cx="116.10" cy="348.11" r="0.30" fill="#999" stroke="none" stroke-width="0"/><circle cx="93.57" cy="301.09" r="0.30" fill="#999" stroke="none" stroke-width="0"/><circle cx="131.29" cy="357.53" r="0.30" fill="#999" stroke="none" stroke-width="0"/><circle cx="127.53" cy="314.60" r="0.30" fill="#999" stroke="none" stroke-width="0"/><circle cx="157.42" cy="287.33" r="0.30" fill="#999" stroke="none" stroke-width="0"/><circle cx="148.60" cy="306.26" r="0.30" fill="#999" stroke="none" stroke-width="0"/><circle cx="95.10" cy="292.88" r="0.30" fill="#999" stroke="none" stroke-width="0"/><circle cx="107.41" cy="347.28" r="0.30" fill="#999" stroke="none" stroke-width="0"/><circle cx="97.84" cy="329.01" r="0.30" fill="#999" stroke="none" stroke-width="0"/><circle cx="132.15" cy="312.71" r="0.30" fill="#999" stroke="none" stroke-width="0"/><circle cx="125.33" cy="288.59" r="0.30" fill="#999" stroke="none" stroke-width="0"/><circle cx="88.76" cy="299.74" r="0.30" fill="#999" stroke="none" stroke-width="0"/><circle cx="135.26" cy="317.01" r="0.30" fill="#999" stroke="none" stroke-width="0"/><circle cx="107.83" cy="329.32" r="0.30" fill="#999" stroke="none" stroke-width="0"/><circle cx="118.24" cy="307.05" r="0.30" fill="#999" stroke="none" stroke-width="0"/><circle cx="143.80" cy="338.15" r="0.30" fill="#999" stroke="none" stroke-width="0"/><circle cx="102.58" cy="328.45" r="0.30" fill="#999" stroke="none" stroke-width="0"/><circle cx="123.64" cy="351.87" r="0.30" fill="#999" stroke="none" stroke-width="0"/><circle cx="138.94" cy="306.13" r="0.30" fill="#999" stroke="none" stroke-width="0"/><circle cx="157.72" cy="292.90" r="0.30" fill="#999" stroke="none" stroke-width="0"/><circle cx="122.20" cy="343.03" r="0.35" fill="#aaa" stroke="none" stroke-width="0"/><circle cx="116.34" cy="341.96" r="0.35" fill="#aaa" stroke="none" stroke-width="0"/><circle cx="113.86" cy="342.67" r="0.35" fill="#aaa" stroke="none" stroke-width="0"/><circle cx="129.82" cy="342.29" r="0.35" fill="#aaa" stroke="none" stroke-width="0"/><circle cx="132.26" cy="341.25" r="0.35" fill="#aaa" stroke="none" stroke-width="0"/><circle cx="128.30" cy="342.38" r="0.35" fill="#aaa" stroke="none" stroke-width="0"/><circle cx="125.76" cy="341.82" r="0.35" fill="#aaa" stroke="none" stroke-width="0"/><circle cx="131.48" cy="343.78" r="0.35" fill="#aaa" stroke="none" stroke-width="0"/><circle cx="123.43" cy="342.66" r="0.35" fill="#aaa" stroke="none" stroke-width="0"/><line x1="181.10" y1="279.60" x2="264.60" y2="279.60" stroke="#cfcfcf" stroke-width="0.9" /><line x1="264.60" y1="279.60" x2="264.60" y2="368.30" stroke="#cfcfcf" stroke-width="0.9" /><line x1="181.10" y1="279.60" x2="181.10" y2="364.80" stroke="#b5b5b5" stroke-width="0.5" /><line x1="181.10" y1="364.30" x2="264.60" y2="364.30" stroke="#b5b5b5" stroke-width="0.5" /><line x1="178.90" y1="280.20" x2="181.40" y2="280.20" stroke="#111" stroke-width="0.8" /><line x1="178.90" y1="294.90" x2="181.40" y2="294.90" stroke="#111" stroke-width="0.8" /><line x1="178.90" y1="311.20" x2="181.40" y2="311.20" stroke="#111" stroke-width="0.8" /><line x1="178.90" y1="332.10" x2="181.40" y2="332.10" stroke="#111" stroke-width="0.8" /><line x1="179.90" y1="290.47" x2="181.10" y2="290.47" stroke="#333" stroke-width="0.6" /><line x1="179.90" y1="287.89" x2="181.10" y2="287.89" stroke="#333" stroke-width="0.6" /><line x1="179.90" y1="286.05" x2="181.10" y2="286.05" stroke="#333" stroke-width="0.6" /><line x1="179.90" y1="284.63" x2="181.10" y2="284.63" stroke="#333" stroke-width="0.6" /><line x1="179.90" y1="283.46" x2="181.10" y2="283.46" stroke="#333" stroke-width="0.6" /><line x1="179.90" y1="282.48" x2="181.10" y2="282.48" stroke="#333" stroke-width="0.6" /><line x1="179.90" y1="281.62" x2="181.10" y2="281.62" stroke="#333" stroke-width="0.6" /><line x1="179.90" y1="280.87" x2="181.10" y2="280.87" stroke="#333" stroke-width="0.6" /><line x1="179.90" y1="306.29" x2="181.10" y2="306.29" stroke="#333" stroke-width="0.6" /><line x1="179.90" y1="303.42" x2="181.10" y2="303.42" stroke="#333" stroke-width="0.6" /><line x1="179.90" y1="301.39" x2="181.10" y2="301.39" stroke="#333" stroke-width="0.6" /><line x1="179.90" y1="299.81" x2="181.10" y2="299.81" stroke="#333" stroke-width="0.6" /><line x1="179.90" y1="298.52" x2="181.10" y2="298.52" stroke="#333" stroke-width="0.6" /><line x1="179.90" y1="297.42" x2="181.10" y2="297.42" stroke="#333" stroke-width="0.6" /><line x1="179.90" y1="296.48" x2="181.10" y2="296.48" stroke="#333" stroke-width="0.6" /><line x1="179.90" y1="295.65" x2="181.10" y2="295.65" stroke="#333" stroke-width="0.6" /><line x1="179.90" y1="316.20" x2="181.10" y2="316.20" stroke="#333" stroke-width="0.6" /><line x1="179.90" y1="321.20" x2="181.10" y2="321.20" stroke="#333" stroke-width="0.6" /><line x1="179.90" y1="326.20" x2="181.10" y2="326.20" stroke="#333" stroke-width="0.6" /><line x1="179.90" y1="336.10" x2="181.10" y2="336.10" stroke="#333" stroke-width="0.6" /><line x1="179.90" y1="339.60" x2="181.10" y2="339.60" stroke="#333" stroke-width="0.6" /><line x1="179.90" y1="343.10" x2="181.10" y2="343.10" stroke="#333" stroke-width="0.6" /><line x1="179.90" y1="346.60" x2="181.10" y2="346.60" stroke="#333" stroke-width="0.6" /><line x1="179.90" y1="350.10" x2="181.10" y2="350.10" stroke="#333" stroke-width="0.6" /><line x1="179.90" y1="356.10" x2="181.10" y2="356.10" stroke="#333" stroke-width="0.6" /><line x1="179.90" y1="361.10" x2="181.10" y2="361.10" stroke="#333" stroke-width="0.6" /><text transform="translate(177.90,281.80) rotate(-60)" font-size="2.6" fill="#333" text-anchor="middle">10<tspan font-size="1.8" dy="-1">5</tspan></text><text transform="translate(177.90,296.50) rotate(-60)" font-size="2.6" fill="#333" text-anchor="middle">10<tspan font-size="1.8" dy="-1">4</tspan></text><text transform="translate(177.90,312.80) rotate(-60)" font-size="2.6" fill="#333" text-anchor="middle">10<tspan font-size="1.8" dy="-1">3</tspan></text><text transform="translate(177.90,333.70) rotate(-60)" font-size="2.6" fill="#333" text-anchor="middle">10<tspan font-size="1.8" dy="-1">2</tspan></text><text transform="translate(176.10,340.80)" font-size="2.6" fill="#333" text-anchor="middle">0</text><rect x="179.70" y="338.60" width="1.80" height="2.40" fill="#111" stroke="none" stroke-width="0" rx="0" /><line x1="188.62" y1="364.30" x2="188.62" y2="366.90" stroke="#111" stroke-width="0.8" /><text transform="translate(188.62,371.30) rotate(-30)" font-size="2.6" fill="#333" text-anchor="middle">-10<tspan font-size="1.8" dy="-1">3</tspan></text><line x1="206.99" y1="364.30" x2="206.99" y2="366.90" stroke="#111" stroke-width="0.8" /><text transform="translate(206.99,371.30) rotate(-30)" font-size="2.6" fill="#333" text-anchor="middle">0</text><line x1="227.86" y1="364.30" x2="227.86" y2="366.90" stroke="#111" stroke-width="0.8" /><text transform="translate(227.86,371.30) rotate(-30)" font-size="2.6" fill="#333" text-anchor="middle">10<tspan font-size="1.8" dy="-1">3</tspan></text><line x1="247.90" y1="364.30" x2="247.90" y2="366.90" stroke="#111" stroke-width="0.8" /><text transform="translate(247.90,371.30) rotate(-30)" font-size="2.6" fill="#333" text-anchor="middle">10<tspan font-size="1.8" dy="-1">4</tspan></text><line x1="262.10" y1="364.30" x2="262.10" y2="366.90" stroke="#111" stroke-width="0.8" /><text transform="translate(262.10,371.30) rotate(-30)" font-size="2.6" fill="#333" text-anchor="middle">10<tspan font-size="1.8" dy="-1">5</tspan></text><line x1="233.89" y1="364.30" x2="233.89" y2="365.60" stroke="#333" stroke-width="0.6" /><line x1="237.42" y1="364.30" x2="237.42" y2="365.60" stroke="#333" stroke-width="0.6" /><line x1="239.93" y1="364.30" x2="239.93" y2="365.60" stroke="#333" stroke-width="0.6" /><line x1="241.87" y1="364.30" x2="241.87" y2="365.60" stroke="#333" stroke-width="0.6" /><line x1="243.45" y1="364.30" x2="243.45" y2="365.60" stroke="#333" stroke-width="0.6" /><line x1="244.80" y1="364.30" x2="244.80" y2="365.60" stroke="#333" stroke-width="0.6" /><line x1="245.96" y1="364.30" x2="245.96" y2="365.60" stroke="#333" stroke-width="0.6" /><line x1="246.98" y1="364.30" x2="246.98" y2="365.60" stroke="#333" stroke-width="0.6" /><line x1="252.17" y1="364.30" x2="252.17" y2="365.60" stroke="#333" stroke-width="0.6" /><line x1="254.67" y1="364.30" x2="254.67" y2="365.60" stroke="#333" stroke-width="0.6" /><line x1="256.45" y1="364.30" x2="256.45" y2="365.60" stroke="#333" stroke-width="0.6" /><line x1="257.82" y1="364.30" x2="257.82" y2="365.60" stroke="#333" stroke-width="0.6" /><line x1="258.95" y1="364.30" x2="258.95" y2="365.60" stroke="#333" stroke-width="0.6" /><line x1="259.90" y1="364.30" x2="259.90" y2="365.60" stroke="#333" stroke-width="0.6" /><line x1="260.72" y1="364.30" x2="260.72" y2="365.60" stroke="#333" stroke-width="0.6" /><line x1="261.45" y1="364.30" x2="261.45" y2="365.60" stroke="#333" stroke-width="0.6" /><line x1="192.12" y1="364.30" x2="192.12" y2="365.60" stroke="#333" stroke-width="0.6" /><line x1="195.62" y1="364.30" x2="195.62" y2="365.60" stroke="#333" stroke-width="0.6" /><line x1="199.12" y1="364.30" x2="199.12" y2="365.60" stroke="#333" stroke-width="0.6" /><line x1="210.99" y1="364.30" x2="210.99" y2="365.60" stroke="#333" stroke-width="0.6" /><line x1="214.99" y1="364.30" x2="214.99" y2="365.60" stroke="#333" stroke-width="0.6" /><line x1="218.99" y1="364.30" x2="218.99" y2="365.60" stroke="#333" stroke-width="0.6" /><line x1="222.99" y1="364.30" x2="222.99" y2="365.60" stroke="#333" stroke-width="0.6" /><rect x="204.59" y="364.50" width="4.40" height="1.80" fill="#111" stroke="none" stroke-width="0" rx="0" /><text x="223.90" y="275.15" font-size="7.08" font-weight="bold" fill="#1e8ee8" text-anchor="middle" >Monofucosylated αCD4 IgG1</text><rect x="193.70" y="300.00" width="17.80" height="27.80" fill="none" stroke="#444" stroke-width="0.75" rx="0.4" /><rect x="213.40" y="328.40" width="40.30" height="32.00" fill="none" stroke="#444" stroke-width="0.75" rx="0.4" /><path d="M206.28,312.40 L206.29,313.87 L206.31,315.44 L206.19,317.12 L205.76,318.73 L204.96,320.00 L203.90,320.74 L202.74,321.00 L201.63,320.96 L200.60,320.80 L199.62,320.53 L198.70,320.05 L197.88,319.29 L197.20,318.32 L196.60,317.31 L195.96,316.31 L195.23,315.26 L194.49,313.98 L193.97,312.40 L193.88,310.67 L194.27,309.04 L195.01,307.69 L195.88,306.62 L196.75,305.70 L197.62,304.86 L198.55,304.16 L199.56,303.79 L200.60,303.84 L201.58,304.24 L202.50,304.78 L203.39,305.35 L204.29,305.98 L205.14,306.83 L205.81,308.01 L206.18,309.43 L206.29,310.93 Z" fill="#aaa" fill-opacity="0.20" stroke="#999" stroke-width="0.35" stroke-opacity="1.00"/><path d="M205.29,312.40 L205.30,313.61 L205.31,314.91 L205.22,316.30 L204.87,317.63 L204.20,318.68 L203.32,319.29 L202.37,319.50 L201.45,319.47 L200.60,319.34 L199.79,319.12 L199.03,318.72 L198.35,318.09 L197.79,317.29 L197.29,316.45 L196.77,315.63 L196.16,314.76 L195.55,313.70 L195.12,312.40 L195.05,310.97 L195.37,309.62 L195.98,308.51 L196.70,307.62 L197.42,306.87 L198.14,306.17 L198.90,305.59 L199.74,305.29 L200.60,305.33 L201.41,305.66 L202.17,306.11 L202.90,306.57 L203.64,307.10 L204.35,307.80 L204.90,308.77 L205.21,309.95 L205.30,311.19 Z" fill="#777" fill-opacity="0.22" stroke="#555" stroke-width="0.45" stroke-opacity="1.00"/><path d="M204.45,312.40 L204.46,313.39 L204.47,314.46 L204.39,315.60 L204.10,316.70 L203.56,317.56 L202.84,318.06 L202.05,318.23 L201.30,318.21 L200.60,318.10 L199.93,317.92 L199.31,317.59 L198.75,317.07 L198.29,316.42 L197.89,315.73 L197.45,315.06 L196.95,314.34 L196.45,313.47 L196.10,312.40 L196.04,311.23 L196.31,310.12 L196.81,309.20 L197.40,308.48 L197.99,307.86 L198.58,307.28 L199.21,306.81 L199.90,306.56 L200.60,306.59 L201.27,306.86 L201.89,307.23 L202.49,307.62 L203.10,308.05 L203.68,308.63 L204.13,309.42 L204.39,310.39 L204.46,311.40 Z" fill="#666" fill-opacity="0.22" stroke="#444" stroke-width="0.45" stroke-opacity="1.00"/><path d="M203.56,312.40 L203.57,313.16 L203.58,313.98 L203.52,314.86 L203.29,315.70 L202.88,316.37 L202.32,316.75 L201.72,316.88 L201.14,316.87 L200.60,316.78 L200.09,316.64 L199.61,316.39 L199.18,315.99 L198.83,315.49 L198.51,314.96 L198.18,314.44 L197.80,313.89 L197.41,313.22 L197.14,312.40 L197.09,311.50 L197.30,310.64 L197.69,309.94 L198.14,309.38 L198.59,308.90 L199.04,308.46 L199.53,308.10 L200.06,307.91 L200.60,307.93 L201.11,308.14 L201.59,308.43 L202.05,308.72 L202.52,309.05 L202.97,309.50 L203.32,310.11 L203.51,310.85 L203.57,311.63 Z" fill="#555" fill-opacity="0.25" stroke="#333" stroke-width="0.45" stroke-opacity="1.00"/><path d="M202.68,312.40 L202.68,312.94 L202.68,313.51 L202.64,314.12 L202.49,314.71 L202.19,315.18 L201.80,315.45 L201.38,315.54 L200.98,315.53 L200.60,315.47 L200.24,315.37 L199.90,315.19 L199.61,314.92 L199.36,314.56 L199.14,314.19 L198.91,313.83 L198.64,313.44 L198.37,312.98 L198.18,312.40 L198.15,311.77 L198.29,311.17 L198.56,310.68 L198.88,310.29 L199.20,309.95 L199.51,309.64 L199.85,309.39 L200.22,309.25 L200.60,309.27 L200.96,309.42 L201.29,309.62 L201.62,309.82 L201.95,310.06 L202.26,310.37 L202.50,310.80 L202.64,311.32 L202.68,311.86 Z" fill="#444" fill-opacity="0.30" stroke="#333" stroke-width="0.45" stroke-opacity="1.00"/><path d="M201.84,312.40 L201.84,312.72 L201.84,313.06 L201.82,313.43 L201.72,313.78 L201.55,314.05 L201.32,314.21 L201.07,314.27 L200.82,314.26 L200.60,314.23 L200.39,314.17 L200.19,314.06 L200.01,313.90 L199.86,313.69 L199.73,313.47 L199.59,313.25 L199.43,313.02 L199.27,312.74 L199.16,312.40 L199.14,312.02 L199.22,311.67 L199.39,311.38 L199.57,311.14 L199.76,310.94 L199.95,310.76 L200.15,310.61 L200.37,310.53 L200.60,310.54 L200.81,310.63 L201.01,310.74 L201.21,310.87 L201.40,311.00 L201.59,311.19 L201.73,311.44 L201.81,311.75 L201.84,312.08 Z" fill="#333" fill-opacity="0.50" stroke="#222" stroke-width="0.5" stroke-opacity="1.00"/><path d="M203.41,322.60 L203.27,323.11 L203.05,323.57 L202.82,324.02 L202.59,324.48 L202.29,324.94 L201.89,325.34 L201.37,325.62 L200.79,325.75 L200.20,325.76 L199.62,325.70 L199.04,325.59 L198.49,325.37 L198.04,325.02 L197.74,324.53 L197.62,324.00 L197.60,323.49 L197.58,323.03 L197.47,322.60 L197.32,322.12 L197.23,321.59 L197.31,321.04 L197.58,320.54 L197.99,320.13 L198.48,319.81 L199.01,319.55 L199.59,319.37 L200.20,319.33 L200.79,319.46 L201.30,319.76 L201.71,320.15 L202.06,320.52 L202.41,320.86 L202.80,321.19 L203.15,321.59 L203.38,322.07 Z" fill="none" fill-opacity="0.00" stroke="#888" stroke-width="0.4" stroke-opacity="0.60"/><path d="M202.13,322.60 L202.04,322.90 L201.91,323.18 L201.77,323.45 L201.63,323.73 L201.46,324.00 L201.21,324.25 L200.90,324.41 L200.56,324.49 L200.20,324.49 L199.85,324.46 L199.50,324.39 L199.18,324.26 L198.90,324.05 L198.72,323.76 L198.65,323.44 L198.64,323.13 L198.63,322.86 L198.56,322.60 L198.47,322.31 L198.42,321.99 L198.47,321.66 L198.63,321.36 L198.87,321.12 L199.17,320.92 L199.49,320.77 L199.84,320.66 L200.20,320.64 L200.55,320.72 L200.86,320.90 L201.11,321.13 L201.32,321.35 L201.53,321.56 L201.76,321.76 L201.97,322.00 L202.11,322.28 Z" fill="none" fill-opacity="0.00" stroke="#999" stroke-width="0.35" stroke-opacity="0.60"/><text x="217.10" y="310.62" font-size="3.4" font-weight="bold" fill="#222" text-anchor="middle" >CD8+</text><text x="217.10" y="315.12" font-size="3.4" font-weight="bold" fill="#222" text-anchor="middle" >98.2</text><text x="207.50" y="343.12" font-size="3.4" font-weight="bold" fill="#222" text-anchor="middle" >CD4+</text><text x="207.50" y="347.62" font-size="3.4" font-weight="bold" fill="#222" text-anchor="middle" >1.46</text><circle cx="185.85" cy="318.94" r="0.30" fill="#999" stroke="none" stroke-width="0"/><circle cx="197.12" cy="291.82" r="0.30" fill="#999" stroke="none" stroke-width="0"/><circle cx="188.67" cy="343.06" r="0.30" fill="#999" stroke="none" stroke-width="0"/><circle cx="194.12" cy="302.09" r="0.30" fill="#999" stroke="none" stroke-width="0"/><circle cx="214.40" cy="351.18" r="0.30" fill="#999" stroke="none" stroke-width="0"/><circle cx="190.35" cy="317.95" r="0.30" fill="#999" stroke="none" stroke-width="0"/><circle cx="226.68" cy="352.12" r="0.30" fill="#999" stroke="none" stroke-width="0"/><circle cx="247.59" cy="350.60" r="0.30" fill="#999" stroke="none" stroke-width="0"/><circle cx="205.68" cy="315.28" r="0.30" fill="#999" stroke="none" stroke-width="0"/><circle cx="211.90" cy="352.19" r="0.30" fill="#999" stroke="none" stroke-width="0"/><circle cx="258.32" cy="294.48" r="0.30" fill="#999" stroke="none" stroke-width="0"/><circle cx="197.76" cy="300.86" r="0.30" fill="#999" stroke="none" stroke-width="0"/><circle cx="202.18" cy="320.77" r="0.30" fill="#999" stroke="none" stroke-width="0"/><circle cx="229.76" cy="303.28" r="0.30" fill="#999" stroke="none" stroke-width="0"/><circle cx="184.42" cy="315.57" r="0.30" fill="#999" stroke="none" stroke-width="0"/><circle cx="212.72" cy="327.17" r="0.30" fill="#999" stroke="none" stroke-width="0"/><circle cx="257.97" cy="336.94" r="0.30" fill="#999" stroke="none" stroke-width="0"/><circle cx="224.05" cy="331.20" r="0.30" fill="#999" stroke="none" stroke-width="0"/><circle cx="236.51" cy="286.85" r="0.30" fill="#999" stroke="none" stroke-width="0"/><circle cx="253.81" cy="343.98" r="0.30" fill="#999" stroke="none" stroke-width="0"/><circle cx="251.87" cy="345.39" r="0.30" fill="#999" stroke="none" stroke-width="0"/><circle cx="214.51" cy="314.00" r="0.30" fill="#999" stroke="none" stroke-width="0"/><circle cx="217.59" cy="343.44" r="0.35" fill="#aaa" stroke="none" stroke-width="0"/><circle cx="216.56" cy="339.47" r="0.35" fill="#aaa" stroke="none" stroke-width="0"/><circle cx="220.22" cy="340.14" r="0.35" fill="#aaa" stroke="none" stroke-width="0"/><circle cx="223.50" cy="339.37" r="0.35" fill="#aaa" stroke="none" stroke-width="0"/><circle cx="215.01" cy="340.06" r="0.35" fill="#aaa" stroke="none" stroke-width="0"/><circle cx="217.54" cy="341.55" r="0.35" fill="#aaa" stroke="none" stroke-width="0"/><circle cx="215.64" cy="345.12" r="0.35" fill="#aaa" stroke="none" stroke-width="0"/><circle cx="230.35" cy="340.04" r="0.35" fill="#aaa" stroke="none" stroke-width="0"/><circle cx="221.31" cy="341.43" r="0.35" fill="#aaa" stroke="none" stroke-width="0"/><circle cx="224.10" cy="339.86" r="0.35" fill="#aaa" stroke="none" stroke-width="0"/><circle cx="236.22" cy="345.95" r="0.35" fill="#aaa" stroke="none" stroke-width="0"/><circle cx="226.65" cy="342.39" r="0.35" fill="#aaa" stroke="none" stroke-width="0"/><line x1="285.00" y1="281.40" x2="366.30" y2="281.40" stroke="#cfcfcf" stroke-width="0.9" /><line x1="366.30" y1="281.40" x2="366.30" y2="370.40" stroke="#cfcfcf" stroke-width="0.9" /><line x1="285.00" y1="281.40" x2="285.00" y2="366.90" stroke="#b5b5b5" stroke-width="0.5" /><line x1="285.00" y1="366.40" x2="366.30" y2="366.40" stroke="#b5b5b5" stroke-width="0.5" /><line x1="282.80" y1="282.00" x2="285.30" y2="282.00" stroke="#111" stroke-width="0.8" /><line x1="282.80" y1="296.70" x2="285.30" y2="296.70" stroke="#111" stroke-width="0.8" /><line x1="282.80" y1="313.00" x2="285.30" y2="313.00" stroke="#111" stroke-width="0.8" /><line x1="282.80" y1="333.90" x2="285.30" y2="333.90" stroke="#111" stroke-width="0.8" /><line x1="283.80" y1="292.27" x2="285.00" y2="292.27" stroke="#333" stroke-width="0.6" /><line x1="283.80" y1="289.69" x2="285.00" y2="289.69" stroke="#333" stroke-width="0.6" /><line x1="283.80" y1="287.85" x2="285.00" y2="287.85" stroke="#333" stroke-width="0.6" /><line x1="283.80" y1="286.43" x2="285.00" y2="286.43" stroke="#333" stroke-width="0.6" /><line x1="283.80" y1="285.26" x2="285.00" y2="285.26" stroke="#333" stroke-width="0.6" /><line x1="283.80" y1="284.28" x2="285.00" y2="284.28" stroke="#333" stroke-width="0.6" /><line x1="283.80" y1="283.42" x2="285.00" y2="283.42" stroke="#333" stroke-width="0.6" /><line x1="283.80" y1="282.67" x2="285.00" y2="282.67" stroke="#333" stroke-width="0.6" /><line x1="283.80" y1="308.09" x2="285.00" y2="308.09" stroke="#333" stroke-width="0.6" /><line x1="283.80" y1="305.22" x2="285.00" y2="305.22" stroke="#333" stroke-width="0.6" /><line x1="283.80" y1="303.19" x2="285.00" y2="303.19" stroke="#333" stroke-width="0.6" /><line x1="283.80" y1="301.61" x2="285.00" y2="301.61" stroke="#333" stroke-width="0.6" /><line x1="283.80" y1="300.32" x2="285.00" y2="300.32" stroke="#333" stroke-width="0.6" /><line x1="283.80" y1="299.22" x2="285.00" y2="299.22" stroke="#333" stroke-width="0.6" /><line x1="283.80" y1="298.28" x2="285.00" y2="298.28" stroke="#333" stroke-width="0.6" /><line x1="283.80" y1="297.45" x2="285.00" y2="297.45" stroke="#333" stroke-width="0.6" /><line x1="283.80" y1="318.00" x2="285.00" y2="318.00" stroke="#333" stroke-width="0.6" /><line x1="283.80" y1="323.00" x2="285.00" y2="323.00" stroke="#333" stroke-width="0.6" /><line x1="283.80" y1="328.00" x2="285.00" y2="328.00" stroke="#333" stroke-width="0.6" /><line x1="283.80" y1="337.90" x2="285.00" y2="337.90" stroke="#333" stroke-width="0.6" /><line x1="283.80" y1="341.40" x2="285.00" y2="341.40" stroke="#333" stroke-width="0.6" /><line x1="283.80" y1="344.90" x2="285.00" y2="344.90" stroke="#333" stroke-width="0.6" /><line x1="283.80" y1="348.40" x2="285.00" y2="348.40" stroke="#333" stroke-width="0.6" /><line x1="283.80" y1="351.90" x2="285.00" y2="351.90" stroke="#333" stroke-width="0.6" /><line x1="283.80" y1="357.90" x2="285.00" y2="357.90" stroke="#333" stroke-width="0.6" /><line x1="283.80" y1="362.90" x2="285.00" y2="362.90" stroke="#333" stroke-width="0.6" /><text transform="translate(281.80,283.60) rotate(-60)" font-size="2.6" fill="#333" text-anchor="middle">10<tspan font-size="1.8" dy="-1">5</tspan></text><text transform="translate(281.80,298.30) rotate(-60)" font-size="2.6" fill="#333" text-anchor="middle">10<tspan font-size="1.8" dy="-1">4</tspan></text><text transform="translate(281.80,314.60) rotate(-60)" font-size="2.6" fill="#333" text-anchor="middle">10<tspan font-size="1.8" dy="-1">3</tspan></text><text transform="translate(281.80,335.50) rotate(-60)" font-size="2.6" fill="#333" text-anchor="middle">10<tspan font-size="1.8" dy="-1">2</tspan></text><text transform="translate(280.00,342.60)" font-size="2.6" fill="#333" text-anchor="middle">0</text><rect x="283.60" y="340.40" width="1.80" height="2.40" fill="#111" stroke="none" stroke-width="0" rx="0" /><line x1="292.32" y1="366.40" x2="292.32" y2="369.00" stroke="#111" stroke-width="0.8" /><text transform="translate(292.32,373.40) rotate(-30)" font-size="2.6" fill="#333" text-anchor="middle">-10<tspan font-size="1.8" dy="-1">3</tspan></text><line x1="310.20" y1="366.40" x2="310.20" y2="369.00" stroke="#111" stroke-width="0.8" /><text transform="translate(310.20,373.40) rotate(-30)" font-size="2.6" fill="#333" text-anchor="middle">0</text><line x1="330.53" y1="366.40" x2="330.53" y2="369.00" stroke="#111" stroke-width="0.8" /><text transform="translate(330.53,373.40) rotate(-30)" font-size="2.6" fill="#333" text-anchor="middle">10<tspan font-size="1.8" dy="-1">3</tspan></text><line x1="350.04" y1="366.40" x2="350.04" y2="369.00" stroke="#111" stroke-width="0.8" /><text transform="translate(350.04,373.40) rotate(-30)" font-size="2.6" fill="#333" text-anchor="middle">10<tspan font-size="1.8" dy="-1">4</tspan></text><line x1="363.86" y1="366.40" x2="363.86" y2="369.00" stroke="#111" stroke-width="0.8" /><text transform="translate(363.86,373.40) rotate(-30)" font-size="2.6" fill="#333" text-anchor="middle">10<tspan font-size="1.8" dy="-1">5</tspan></text><line x1="336.40" y1="366.40" x2="336.40" y2="367.70" stroke="#333" stroke-width="0.6" /><line x1="339.84" y1="366.40" x2="339.84" y2="367.70" stroke="#333" stroke-width="0.6" /><line x1="342.28" y1="366.40" x2="342.28" y2="367.70" stroke="#333" stroke-width="0.6" /><line x1="344.17" y1="366.40" x2="344.17" y2="367.70" stroke="#333" stroke-width="0.6" /><line x1="345.71" y1="366.40" x2="345.71" y2="367.70" stroke="#333" stroke-width="0.6" /><line x1="347.02" y1="366.40" x2="347.02" y2="367.70" stroke="#333" stroke-width="0.6" /><line x1="348.15" y1="366.40" x2="348.15" y2="367.70" stroke="#333" stroke-width="0.6" /><line x1="349.15" y1="366.40" x2="349.15" y2="367.70" stroke="#333" stroke-width="0.6" /><line x1="354.20" y1="366.40" x2="354.20" y2="367.70" stroke="#333" stroke-width="0.6" /><line x1="356.63" y1="366.40" x2="356.63" y2="367.70" stroke="#333" stroke-width="0.6" /><line x1="358.36" y1="366.40" x2="358.36" y2="367.70" stroke="#333" stroke-width="0.6" /><line x1="359.70" y1="366.40" x2="359.70" y2="367.70" stroke="#333" stroke-width="0.6" /><line x1="360.79" y1="366.40" x2="360.79" y2="367.70" stroke="#333" stroke-width="0.6" /><line x1="361.72" y1="366.40" x2="361.72" y2="367.70" stroke="#333" stroke-width="0.6" /><line x1="362.52" y1="366.40" x2="362.52" y2="367.70" stroke="#333" stroke-width="0.6" /><line x1="363.23" y1="366.40" x2="363.23" y2="367.70" stroke="#333" stroke-width="0.6" /><line x1="295.82" y1="366.40" x2="295.82" y2="367.70" stroke="#333" stroke-width="0.6" /><line x1="299.32" y1="366.40" x2="299.32" y2="367.70" stroke="#333" stroke-width="0.6" /><line x1="302.82" y1="366.40" x2="302.82" y2="367.70" stroke="#333" stroke-width="0.6" /><line x1="314.20" y1="366.40" x2="314.20" y2="367.70" stroke="#333" stroke-width="0.6" /><line x1="318.20" y1="366.40" x2="318.20" y2="367.70" stroke="#333" stroke-width="0.6" /><line x1="322.20" y1="366.40" x2="322.20" y2="367.70" stroke="#333" stroke-width="0.6" /><line x1="326.20" y1="366.40" x2="326.20" y2="367.70" stroke="#333" stroke-width="0.6" /><rect x="307.80" y="366.60" width="4.40" height="1.80" fill="#111" stroke="none" stroke-width="0" rx="0" /><text x="324.30" y="275.15" font-size="7.08" font-weight="bold" fill="#6c50c2" text-anchor="middle" >Bifucosylated αCD4 IgG1</text><rect x="297.40" y="302.00" width="16.80" height="27.80" fill="none" stroke="#444" stroke-width="0.75" rx="0.4" /><rect x="315.40" y="330.60" width="40.90" height="31.60" fill="none" stroke="#444" stroke-width="0.75" rx="0.4" /><path d="M309.16,314.00 L309.12,315.56 L308.80,317.02 L308.33,318.35 L307.76,319.54 L307.08,320.56 L306.28,321.28 L305.40,321.59 L304.51,321.51 L303.70,321.22 L302.95,320.96 L302.18,320.82 L301.35,320.64 L300.51,320.19 L299.81,319.32 L299.34,318.10 L299.09,316.73 L298.97,315.36 L298.87,314.00 L298.77,312.59 L298.81,311.10 L299.08,309.65 L299.61,308.42 L300.34,307.48 L301.15,306.80 L301.97,306.27 L302.82,305.89 L303.70,305.78 L304.56,306.09 L305.30,306.83 L305.90,307.81 L306.39,308.78 L306.92,309.60 L307.57,310.37 L308.27,311.29 L308.86,312.52 Z" fill="#aaa" fill-opacity="0.22" stroke="#999" stroke-width="0.35" stroke-opacity="1.00"/><path d="M308.21,314.00 L308.18,315.28 L307.91,316.50 L307.52,317.59 L307.05,318.58 L306.49,319.42 L305.83,320.02 L305.10,320.27 L304.37,320.20 L303.70,319.96 L303.08,319.75 L302.44,319.63 L301.76,319.48 L301.07,319.11 L300.48,318.39 L300.09,317.39 L299.89,316.25 L299.79,315.12 L299.71,314.00 L299.63,312.83 L299.66,311.60 L299.88,310.41 L300.32,309.39 L300.92,308.61 L301.59,308.05 L302.27,307.61 L302.97,307.30 L303.70,307.21 L304.41,307.47 L305.02,308.08 L305.51,308.89 L305.92,309.68 L306.36,310.36 L306.89,311.00 L307.48,311.76 L307.96,312.78 Z" fill="#777" fill-opacity="0.24" stroke="#555" stroke-width="0.45" stroke-opacity="1.00"/><path d="M307.40,314.00 L307.38,315.05 L307.16,316.05 L306.84,316.95 L306.45,317.76 L305.99,318.45 L305.45,318.94 L304.85,319.15 L304.25,319.09 L303.70,318.90 L303.19,318.72 L302.67,318.62 L302.10,318.50 L301.54,318.20 L301.06,317.61 L300.74,316.78 L300.58,315.85 L300.49,314.92 L300.42,314.00 L300.36,313.04 L300.38,312.03 L300.56,311.05 L300.93,310.21 L301.42,309.58 L301.97,309.11 L302.53,308.76 L303.10,308.50 L303.70,308.43 L304.28,308.64 L304.79,309.14 L305.19,309.80 L305.53,310.46 L305.89,311.01 L306.32,311.53 L306.80,312.16 L307.20,313.00 Z" fill="#666" fill-opacity="0.24" stroke="#444" stroke-width="0.45" stroke-opacity="1.00"/><path d="M306.55,314.00 L306.53,314.81 L306.36,315.58 L306.11,316.27 L305.82,316.89 L305.46,317.42 L305.05,317.80 L304.59,317.96 L304.12,317.92 L303.70,317.77 L303.31,317.63 L302.90,317.56 L302.47,317.46 L302.04,317.23 L301.67,316.78 L301.42,316.14 L301.30,315.42 L301.23,314.71 L301.18,314.00 L301.13,313.26 L301.15,312.49 L301.29,311.73 L301.57,311.09 L301.95,310.60 L302.37,310.24 L302.80,309.97 L303.24,309.77 L303.70,309.71 L304.15,309.87 L304.54,310.26 L304.85,310.77 L305.11,311.27 L305.38,311.70 L305.72,312.10 L306.08,312.59 L306.39,313.23 Z" fill="#555" fill-opacity="0.28" stroke="#333" stroke-width="0.45" stroke-opacity="1.00"/><path d="M305.69,314.00 L305.68,314.57 L305.56,315.10 L305.39,315.59 L305.18,316.02 L304.93,316.40 L304.64,316.66 L304.32,316.77 L304.00,316.74 L303.70,316.64 L303.42,316.54 L303.14,316.49 L302.84,316.42 L302.54,316.26 L302.28,315.94 L302.11,315.50 L302.02,315.00 L301.97,314.50 L301.93,314.00 L301.90,313.48 L301.91,312.94 L302.01,312.41 L302.21,311.96 L302.47,311.62 L302.77,311.37 L303.07,311.18 L303.38,311.04 L303.70,311.00 L304.01,311.11 L304.29,311.38 L304.50,311.74 L304.68,312.09 L304.88,312.39 L305.11,312.67 L305.37,313.01 L305.58,313.46 Z" fill="#444" fill-opacity="0.33" stroke="#333" stroke-width="0.45" stroke-opacity="1.00"/><path d="M304.89,314.00 L304.88,314.34 L304.81,314.66 L304.71,314.95 L304.58,315.20 L304.44,315.43 L304.26,315.58 L304.07,315.65 L303.88,315.63 L303.70,315.57 L303.54,315.51 L303.37,315.48 L303.19,315.44 L303.01,315.34 L302.85,315.16 L302.75,314.89 L302.70,314.59 L302.67,314.30 L302.65,314.00 L302.63,313.69 L302.64,313.37 L302.69,313.06 L302.81,312.79 L302.97,312.58 L303.14,312.43 L303.32,312.32 L303.51,312.24 L303.70,312.21 L303.89,312.28 L304.05,312.44 L304.18,312.65 L304.29,312.86 L304.40,313.04 L304.54,313.21 L304.69,313.41 L304.82,313.68 Z" fill="#333" fill-opacity="0.55" stroke="#222" stroke-width="0.5" stroke-opacity="1.00"/><path d="M306.93,325.00 L307.05,325.61 L306.97,326.22 L306.70,326.77 L306.32,327.20 L305.90,327.57 L305.49,327.93 L305.05,328.28 L304.55,328.57 L304.00,328.68 L303.44,328.59 L302.93,328.32 L302.49,327.97 L302.09,327.58 L301.73,327.16 L301.45,326.67 L301.28,326.12 L301.27,325.55 L301.36,325.00 L301.45,324.49 L301.50,323.97 L301.52,323.37 L301.60,322.72 L301.86,322.10 L302.29,321.64 L302.84,321.39 L303.43,321.34 L304.00,321.41 L304.54,321.54 L305.05,321.75 L305.50,322.06 L305.85,322.50 L306.10,323.00 L306.29,323.50 L306.48,323.98 L306.71,324.46 Z" fill="none" fill-opacity="0.00" stroke="#888" stroke-width="0.4" stroke-opacity="0.50"/><path d="M305.76,325.00 L305.83,325.37 L305.78,325.73 L305.62,326.06 L305.39,326.32 L305.14,326.54 L304.89,326.76 L304.63,326.97 L304.33,327.14 L304.00,327.21 L303.66,327.15 L303.36,326.99 L303.09,326.78 L302.85,326.55 L302.64,326.29 L302.47,326.00 L302.37,325.67 L302.36,325.33 L302.41,325.00 L302.47,324.69 L302.50,324.38 L302.51,324.02 L302.56,323.63 L302.71,323.26 L302.97,322.98 L303.30,322.83 L303.66,322.80 L304.00,322.84 L304.32,322.92 L304.63,323.05 L304.90,323.24 L305.11,323.50 L305.26,323.80 L305.37,324.10 L305.49,324.39 L305.63,324.67 Z" fill="none" fill-opacity="0.00" stroke="#999" stroke-width="0.35" stroke-opacity="0.50"/><path d="M330.87,342.60 L330.38,343.57 L329.79,344.47 L329.15,345.32 L328.36,346.11 L327.31,346.76 L326.05,347.22 L324.71,347.50 L323.38,347.74 L322.00,348.03 L320.46,348.36 L318.72,348.53 L316.96,348.35 L315.47,347.72 L314.47,346.76 L313.95,345.66 L313.73,344.58 L313.64,343.57 L313.64,342.60 L313.85,341.65 L314.37,340.77 L315.15,340.00 L316.04,339.31 L316.92,338.62 L317.85,337.87 L318.97,337.12 L320.38,336.57 L322.00,336.37 L323.61,336.58 L325.06,337.06 L326.36,337.64 L327.61,338.20 L328.87,338.81 L330.02,339.55 L330.82,340.49 L331.09,341.55 Z" fill="#aaa" fill-opacity="0.22" stroke="#999" stroke-width="0.35" stroke-opacity="1.00"/><path d="M329.33,342.60 L328.92,343.40 L328.44,344.14 L327.91,344.84 L327.25,345.50 L326.39,346.04 L325.35,346.41 L324.24,346.65 L323.14,346.84 L322.00,347.09 L320.72,347.36 L319.29,347.50 L317.84,347.35 L316.61,346.83 L315.78,346.03 L315.35,345.12 L315.17,344.23 L315.09,343.40 L315.09,342.60 L315.27,341.82 L315.70,341.09 L316.34,340.45 L317.07,339.88 L317.80,339.31 L318.57,338.69 L319.50,338.08 L320.66,337.62 L322.00,337.46 L323.33,337.63 L324.53,338.03 L325.60,338.50 L326.63,338.97 L327.67,339.47 L328.62,340.08 L329.28,340.86 L329.51,341.73 Z" fill="#777" fill-opacity="0.24" stroke="#555" stroke-width="0.45" stroke-opacity="1.00"/><path d="M328.02,342.60 L327.68,343.26 L327.28,343.87 L326.85,344.44 L326.31,344.98 L325.60,345.42 L324.75,345.73 L323.84,345.92 L322.93,346.08 L322.00,346.29 L320.95,346.51 L319.77,346.62 L318.58,346.50 L317.57,346.07 L316.89,345.42 L316.54,344.67 L316.39,343.94 L316.33,343.26 L316.33,342.60 L316.47,341.96 L316.83,341.36 L317.36,340.84 L317.96,340.37 L318.55,339.90 L319.18,339.39 L319.95,338.89 L320.90,338.51 L322.00,338.38 L323.09,338.52 L324.08,338.84 L324.95,339.23 L325.80,339.62 L326.66,340.03 L327.44,340.53 L327.98,341.17 L328.16,341.88 Z" fill="#666" fill-opacity="0.24" stroke="#444" stroke-width="0.45" stroke-opacity="1.00"/><path d="M326.63,342.60 L326.37,343.11 L326.06,343.57 L325.73,344.02 L325.32,344.43 L324.77,344.77 L324.11,345.01 L323.41,345.16 L322.72,345.28 L322.00,345.44 L321.19,345.61 L320.29,345.69 L319.37,345.60 L318.59,345.27 L318.07,344.77 L317.80,344.19 L317.69,343.63 L317.64,343.11 L317.64,342.60 L317.75,342.11 L318.02,341.65 L318.43,341.24 L318.89,340.88 L319.35,340.52 L319.83,340.13 L320.42,339.74 L321.16,339.45 L322.00,339.35 L322.84,339.46 L323.60,339.71 L324.27,340.01 L324.92,340.31 L325.58,340.62 L326.18,341.01 L326.60,341.50 L326.74,342.05 Z" fill="#555" fill-opacity="0.28" stroke="#333" stroke-width="0.45" stroke-opacity="1.00"/><path d="M325.24,342.60 L325.06,342.95 L324.85,343.28 L324.61,343.59 L324.32,343.88 L323.94,344.12 L323.48,344.29 L322.99,344.39 L322.50,344.48 L322.00,344.58 L321.44,344.70 L320.80,344.77 L320.16,344.70 L319.62,344.47 L319.25,344.12 L319.06,343.72 L318.98,343.32 L318.95,342.95 L318.95,342.60 L319.02,342.25 L319.21,341.93 L319.50,341.65 L319.82,341.40 L320.14,341.15 L320.48,340.87 L320.89,340.60 L321.41,340.40 L322.00,340.33 L322.59,340.40 L323.12,340.58 L323.59,340.79 L324.05,340.99 L324.51,341.22 L324.93,341.49 L325.22,341.83 L325.32,342.21 Z" fill="#444" fill-opacity="0.33" stroke="#333" stroke-width="0.45" stroke-opacity="1.00"/><path d="M323.93,342.60 L323.82,342.81 L323.69,343.01 L323.55,343.19 L323.38,343.36 L323.15,343.51 L322.88,343.60 L322.59,343.67 L322.30,343.72 L322.00,343.78 L321.66,343.85 L321.29,343.89 L320.90,343.85 L320.58,343.71 L320.36,343.50 L320.25,343.26 L320.20,343.03 L320.18,342.81 L320.18,342.60 L320.23,342.39 L320.34,342.20 L320.51,342.03 L320.70,341.88 L320.90,341.73 L321.10,341.57 L321.34,341.41 L321.65,341.29 L322.00,341.25 L322.35,341.29 L322.67,341.40 L322.95,341.52 L323.22,341.64 L323.49,341.78 L323.74,341.94 L323.92,342.14 L323.98,342.37 Z" fill="#333" fill-opacity="0.55" stroke="#222" stroke-width="0.5" stroke-opacity="1.00"/><text x="322.00" y="313.32" font-size="3.4" font-weight="bold" fill="#222" text-anchor="middle" >CD8+</text><text x="322.00" y="317.82" font-size="3.4" font-weight="bold" fill="#222" text-anchor="middle" >63.2</text><text x="309.40" y="343.32" font-size="3.4" font-weight="bold" fill="#222" text-anchor="middle" >CD4+</text><text x="309.40" y="347.82" font-size="3.4" font-weight="bold" fill="#222" text-anchor="middle" >36.2</text><circle cx="327.77" cy="361.70" r="0.30" fill="#999" stroke="none" stroke-width="0"/><circle cx="353.01" cy="339.40" r="0.30" fill="#999" stroke="none" stroke-width="0"/><circle cx="307.66" cy="313.37" r="0.30" fill="#999" stroke="none" stroke-width="0"/><circle cx="300.58" cy="345.38" r="0.30" fill="#999" stroke="none" stroke-width="0"/><circle cx="328.10" cy="345.95" r="0.30" fill="#999" stroke="none" stroke-width="0"/><circle cx="312.82" cy="302.02" r="0.30" fill="#999" stroke="none" stroke-width="0"/><circle cx="349.11" cy="362.21" r="0.30" fill="#999" stroke="none" stroke-width="0"/><circle cx="352.20" cy="348.08" r="0.30" fill="#999" stroke="none" stroke-width="0"/><circle cx="349.62" cy="342.85" r="0.30" fill="#999" stroke="none" stroke-width="0"/><circle cx="305.07" cy="325.29" r="0.30" fill="#999" stroke="none" stroke-width="0"/><circle cx="314.77" cy="286.69" r="0.30" fill="#999" stroke="none" stroke-width="0"/><circle cx="290.10" cy="306.47" r="0.30" fill="#999" stroke="none" stroke-width="0"/><circle cx="307.52" cy="339.11" r="0.30" fill="#999" stroke="none" stroke-width="0"/><circle cx="360.03" cy="319.73" r="0.30" fill="#999" stroke="none" stroke-width="0"/><circle cx="358.56" cy="362.46" r="0.30" fill="#999" stroke="none" stroke-width="0"/><circle cx="359.91" cy="313.21" r="0.30" fill="#999" stroke="none" stroke-width="0"/><circle cx="304.60" cy="302.32" r="0.30" fill="#999" stroke="none" stroke-width="0"/><circle cx="302.81" cy="300.55" r="0.30" fill="#999" stroke="none" stroke-width="0"/><circle cx="334.99" cy="355.52" r="0.30" fill="#999" stroke="none" stroke-width="0"/><circle cx="351.28" cy="322.28" r="0.30" fill="#999" stroke="none" stroke-width="0"/><circle cx="337.17" cy="347.57" r="0.30" fill="#999" stroke="none" stroke-width="0"/><circle cx="294.38" cy="336.59" r="0.30" fill="#999" stroke="none" stroke-width="0"/><circle cx="336.20" cy="348.08" r="0.35" fill="#999" stroke="none" stroke-width="0"/><circle cx="333.00" cy="342.60" r="0.35" fill="#999" stroke="none" stroke-width="0"/><circle cx="321.57" cy="348.20" r="0.35" fill="#999" stroke="none" stroke-width="0"/><circle cx="324.65" cy="348.41" r="0.35" fill="#999" stroke="none" stroke-width="0"/><circle cx="337.43" cy="341.13" r="0.35" fill="#999" stroke="none" stroke-width="0"/><circle cx="326.03" cy="351.04" r="0.35" fill="#999" stroke="none" stroke-width="0"/><circle cx="332.50" cy="337.06" r="0.35" fill="#999" stroke="none" stroke-width="0"/><circle cx="320.54" cy="336.72" r="0.35" fill="#999" stroke="none" stroke-width="0"/><circle cx="336.10" cy="348.52" r="0.35" fill="#999" stroke="none" stroke-width="0"/><circle cx="320.92" cy="348.88" r="0.35" fill="#999" stroke="none" stroke-width="0"/><circle cx="337.61" cy="345.83" r="0.35" fill="#999" stroke="none" stroke-width="0"/><circle cx="325.01" cy="343.88" r="0.35" fill="#999" stroke="none" stroke-width="0"/><circle cx="320.62" cy="334.26" r="0.35" fill="#999" stroke="none" stroke-width="0"/><circle cx="337.42" cy="345.69" r="0.35" fill="#999" stroke="none" stroke-width="0"/><line x1="273.50" y1="262.00" x2="273.50" y2="372.00" stroke="#d8d8d8" stroke-width="0.8" /><line x1="80.40" y1="376.60" x2="368.20" y2="376.60" stroke="#bfbfbf" stroke-width="1.0" /><line x1="70.00" y1="375.50" x2="76.80" y2="375.50" stroke="#d5d5d5" stroke-width="0.8" /><text transform="translate(70.52,324.60) rotate(-90)" x="0" y="0" font-size="7.0" font-weight="bold" fill="#111" text-anchor="middle">CD8 BV605</text><text x="210.20" y="385.36" font-size="7.1" font-weight="bold" fill="#111" text-anchor="middle" >CD4 FITC</text><text x="424.80" y="269.97" font-size="8.8" font-weight="bold" fill="#000" text-anchor="start" >h</text><line x1="454.30" y1="274.20" x2="454.30" y2="363.60" stroke="#888" stroke-width="0.8" /><line x1="454.00" y1="363.60" x2="555.40" y2="363.60" stroke="#888" stroke-width="0.8" /><line x1="451.80" y1="363.60" x2="454.00" y2="363.60" stroke="#888" stroke-width="0.8" /><text x="450.00" y="366.30" font-size="7.5" font-weight="bold" fill="#111" text-anchor="end" >0</text><line x1="451.80" y1="334.10" x2="454.00" y2="334.10" stroke="#888" stroke-width="0.8" /><text x="450.00" y="336.80" font-size="7.5" font-weight="bold" fill="#111" text-anchor="end" >25</text><line x1="451.80" y1="304.60" x2="454.00" y2="304.60" stroke="#888" stroke-width="0.8" /><text x="450.00" y="307.30" font-size="7.5" font-weight="bold" fill="#111" text-anchor="end" >50</text><line x1="451.80" y1="275.10" x2="454.00" y2="275.10" stroke="#888" stroke-width="0.8" /><text x="450.00" y="277.80" font-size="7.5" font-weight="bold" fill="#111" text-anchor="end" >75</text><line x1="452.40" y1="348.85" x2="454.00" y2="348.85" stroke="#888" stroke-width="0.7" /><line x1="452.40" y1="319.35" x2="454.00" y2="319.35" stroke="#888" stroke-width="0.7" /><line x1="452.40" y1="289.85" x2="454.00" y2="289.85" stroke="#888" stroke-width="0.7" /><text transform="translate(435.45,321.70) rotate(-90)" x="0" y="0" font-size="6.8" font-weight="normal" fill="#111" text-anchor="middle">% CD4+/CD3+</text><rect x="462.40" y="350.86" width="15.90" height="12.74" fill="#b800c0" stroke="#333" stroke-width="0.6" rx="0" /><line x1="470.35" y1="350.86" x2="470.35" y2="345.90" stroke="#111" stroke-width="0.8" /><line x1="466.55" y1="345.90" x2="474.15" y2="345.90" stroke="#111" stroke-width="0.8" /><circle cx="466.50" cy="340.71" r="2.00" fill="#111" stroke="none" stroke-width="0"/><circle cx="473.80" cy="337.88" r="2.00" fill="#111" stroke="none" stroke-width="0"/><circle cx="470.70" cy="346.73" r="2.00" fill="#111" stroke="none" stroke-width="0"/><circle cx="470.70" cy="351.45" r="2.00" fill="#111" stroke="none" stroke-width="0"/><circle cx="466.50" cy="362.66" r="2.00" fill="#111" stroke="none" stroke-width="0"/><circle cx="474.20" cy="362.66" r="2.00" fill="#111" stroke="none" stroke-width="0"/><rect x="482.50" y="354.51" width="15.90" height="9.09" fill="#1ec0f0" stroke="#333" stroke-width="0.6" rx="0" /><line x1="490.45" y1="354.51" x2="490.45" y2="350.62" stroke="#111" stroke-width="0.8" /><line x1="486.65" y1="350.62" x2="494.25" y2="350.62" stroke="#111" stroke-width="0.8" /><circle cx="490.40" cy="344.72" r="2.00" fill="#111" stroke="none" stroke-width="0"/><circle cx="485.20" cy="346.73" r="2.00" fill="#111" stroke="none" stroke-width="0"/><circle cx="494.30" cy="349.79" r="2.00" fill="#111" stroke="none" stroke-width="0"/><circle cx="490.40" cy="359.71" r="2.00" fill="#111" stroke="none" stroke-width="0"/><circle cx="484.60" cy="361.83" r="2.00" fill="#111" stroke="none" stroke-width="0"/><circle cx="496.40" cy="361.83" r="2.00" fill="#111" stroke="none" stroke-width="0"/><rect x="502.20" y="310.50" width="16.10" height="53.10" fill="#a48ad6" stroke="#333" stroke-width="0.6" rx="0" /><line x1="510.25" y1="310.50" x2="510.25" y2="306.96" stroke="#111" stroke-width="0.8" /><line x1="506.45" y1="306.96" x2="514.05" y2="306.96" stroke="#111" stroke-width="0.8" /><circle cx="510.40" cy="295.16" r="2.00" fill="#111" stroke="none" stroke-width="0"/><circle cx="510.90" cy="305.78" r="2.00" fill="#111" stroke="none" stroke-width="0"/><circle cx="506.70" cy="314.04" r="2.00" fill="#111" stroke="none" stroke-width="0"/><circle cx="514.60" cy="315.22" r="2.00" fill="#111" stroke="none" stroke-width="0"/><circle cx="510.50" cy="322.30" r="2.00" fill="#111" stroke="none" stroke-width="0"/><rect x="531.20" y="302.24" width="15.50" height="61.36" fill="#646464" stroke="#333" stroke-width="0.6" rx="0" /><line x1="538.95" y1="302.24" x2="538.95" y2="301.06" stroke="#111" stroke-width="0.8" /><line x1="535.15" y1="301.06" x2="542.75" y2="301.06" stroke="#111" stroke-width="0.8" /><circle cx="533.50" cy="301.65" r="2.00" fill="#111" stroke="none" stroke-width="0"/><circle cx="536.50" cy="302.24" r="2.00" fill="#111" stroke="none" stroke-width="0"/><circle cx="539.00" cy="301.30" r="2.00" fill="#111" stroke="none" stroke-width="0"/><circle cx="541.50" cy="302.00" r="2.00" fill="#111" stroke="none" stroke-width="0"/><circle cx="544.00" cy="301.53" r="2.00" fill="#111" stroke="none" stroke-width="0"/><circle cx="545.50" cy="302.24" r="2.00" fill="#111" stroke="none" stroke-width="0"/><text x="470.00" y="375.02" font-size="7.0" font-weight="bold" fill="#111" text-anchor="middle" >0</text><text x="490.40" y="375.02" font-size="7.0" font-weight="bold" fill="#111" text-anchor="middle" >1</text><text x="510.50" y="375.02" font-size="7.0" font-weight="bold" fill="#111" text-anchor="middle" >2</text><text x="538.90" y="375.02" font-size="7.0" font-weight="bold" fill="#111" text-anchor="middle" >PBS</text><text x="501.30" y="383.68" font-size="7.45" font-weight="bold" fill="#111" text-anchor="middle" >Fucose residues/Fc</text><text x="504.00" y="264.26" font-size="7.1" font-weight="normal" fill="#222" text-anchor="middle" >&lt;0.0001</text><line x1="470.60" y1="267.30" x2="539.00" y2="267.30" stroke="#777" stroke-width="0.8" /><text x="514.30" y="278.56" font-size="7.1" font-weight="normal" fill="#222" text-anchor="middle" >&lt;0.0001</text><line x1="490.80" y1="282.10" x2="539.00" y2="282.10" stroke="#777" stroke-width="0.8" /><text x="524.40" y="291.76" font-size="7.1" font-weight="normal" fill="#222" text-anchor="middle" >0.3895</text><line x1="510.00" y1="295.30" x2="539.00" y2="295.30" stroke="#444" stroke-width="0.8" /><text x="480.40" y="327.86" font-size="7.1" font-weight="normal" fill="#222" text-anchor="middle" >&gt;0.9999</text><line x1="470.70" y1="331.50" x2="490.80" y2="331.50" stroke="#aaa" stroke-width="0.8" />
</svg></body></html>
